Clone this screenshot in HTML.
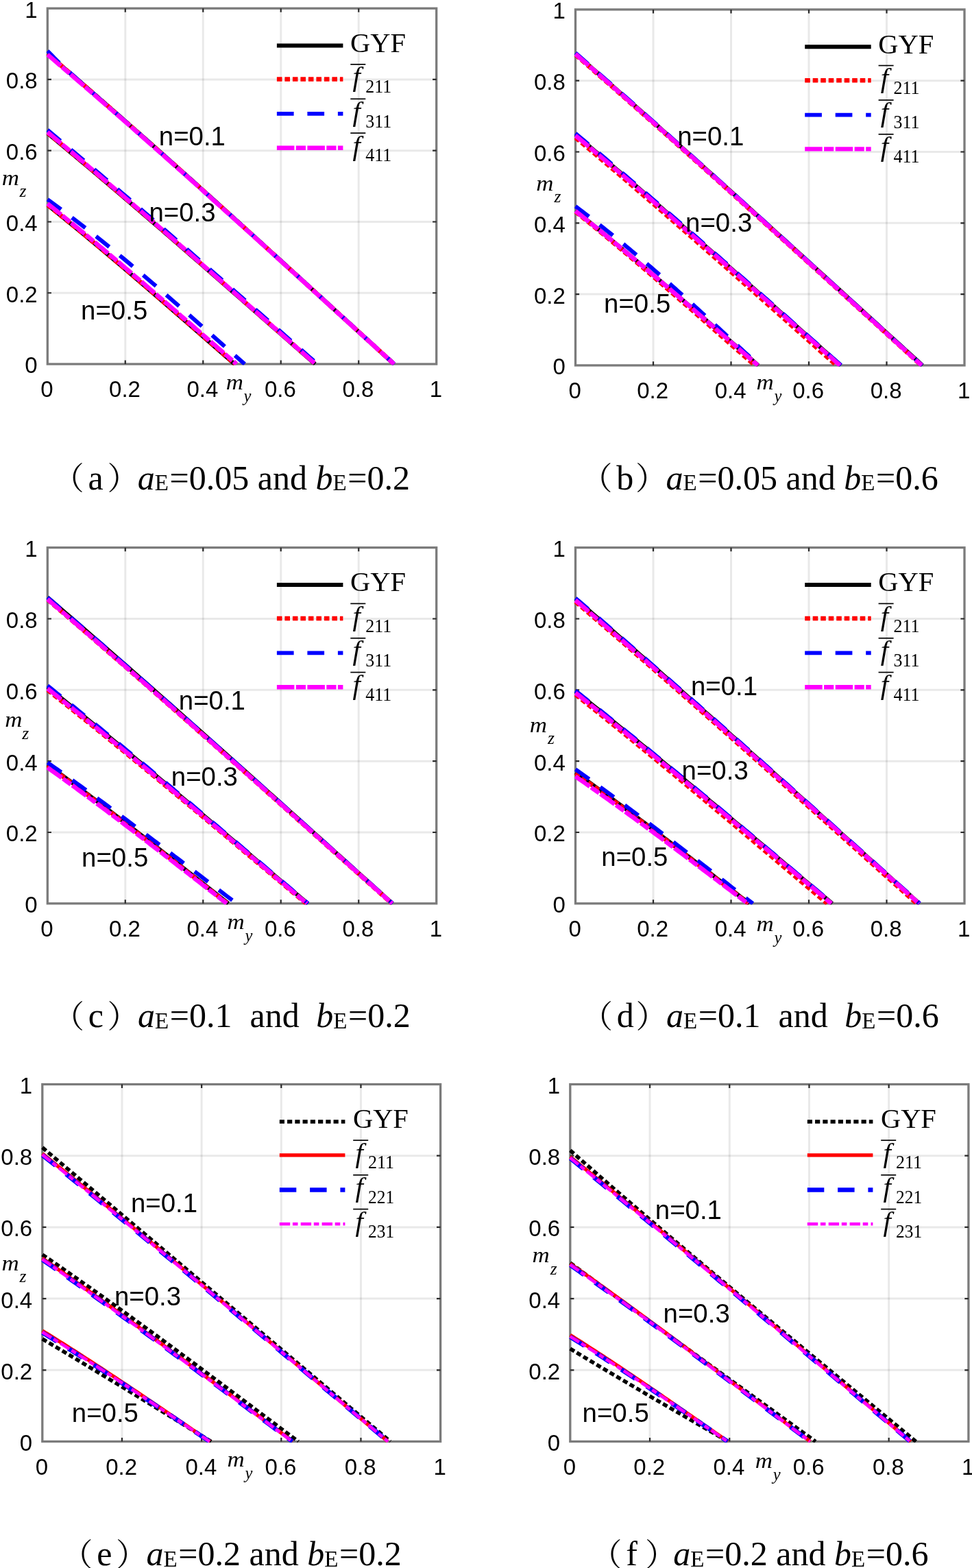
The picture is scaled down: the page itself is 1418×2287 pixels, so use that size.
<!DOCTYPE html>
<html lang="en"><head><meta charset="utf-8"><title>Yield surfaces</title>
<style>html,body{margin:0;padding:0;background:#fff}body{width:1418px;height:2287px;overflow:hidden}svg{display:block}</style>
</head><body>
<svg width="1418" height="2287" viewBox="0 0 1418 2287">
<rect width="1418" height="2287" fill="#fff"/>
<g id="plot-a">
<path d="M182.78 12.2 V531 M296.26 12.2 V531 M409.74 12.2 V531 M523.22 12.2 V531" stroke="#000" stroke-opacity="0.088" stroke-width="3.0" fill="none"/>
<path d="M69.3 427.24 H636.7 M69.3 323.48 H636.7 M69.3 219.72 H636.7 M69.3 115.96 H636.7" stroke="#000" stroke-opacity="0.088" stroke-width="3.0" fill="none"/>
<rect x="69.3" y="12.2" width="567.4" height="518.8" fill="none" stroke="#7b7b7b" stroke-width="3.3"/>
<path d="M182.78 531 v-5.6 M182.78 12.2 v5.6 M69.3 427.24 h5.6 M636.7 427.24 h-5.6 M296.26 531 v-5.6 M296.26 12.2 v5.6 M69.3 323.48 h5.6 M636.7 323.48 h-5.6 M409.74 531 v-5.6 M409.74 12.2 v5.6 M69.3 219.72 h5.6 M636.7 219.72 h-5.6 M523.22 531 v-5.6 M523.22 12.2 v5.6 M69.3 115.96 h5.6 M636.7 115.96 h-5.6" stroke="#2a2a2a" stroke-width="2.2" fill="none"/>
<clipPath id="clip-a"><rect x="67.8" y="12.2" width="570.4" height="520.4"/></clipPath>
<g clip-path="url(#clip-a)" fill="none">
<path d="M69.3 78.61 L78.14 86.15 L86.96 93.69 L95.75 101.23 L104.52 108.77 L113.27 116.31 L122 123.85 L130.71 131.39 L139.4 138.93 L148.06 146.47 L156.71 154.01 L165.34 161.55 L173.95 169.09 L182.54 176.63 L191.12 184.16 L199.68 191.7 L208.22 199.24 L216.75 206.78 L225.26 214.32 L233.75 221.86 L242.23 229.4 L250.7 236.94 L259.15 244.48 L267.59 252.02 L276.02 259.56 L284.43 267.1 L292.83 274.64 L301.22 282.18 L309.6 289.72 L317.97 297.26 L326.33 304.8 L334.68 312.34 L343.02 319.88 L351.36 327.42 L359.68 334.96 L368 342.5 L376.31 350.04 L384.61 357.58 L392.91 365.12 L401.2 372.66 L409.49 380.2 L417.77 387.74 L426.05 395.28 L434.32 402.82 L442.59 410.36 L450.86 417.9 L459.12 425.44 L467.39 432.98 L475.65 440.52 L483.91 448.06 L492.17 455.6 L500.43 463.14 L508.69 470.68 L516.95 478.22 L525.22 485.76 L533.48 493.3 L541.75 500.84 L550.02 508.38 L558.29 515.92 L566.57 523.46 L574.85 531" stroke="#000000" stroke-width="6.0"/>
<path d="M69.3 78.61 L78.14 86.15 L86.96 93.69 L95.75 101.23 L104.52 108.77 L113.27 116.31 L122 123.85 L130.71 131.39 L139.4 138.93 L148.06 146.47 L156.71 154.01 L165.34 161.55 L173.95 169.09 L182.54 176.63 L191.12 184.16 L199.68 191.7 L208.22 199.24 L216.75 206.78 L225.26 214.32 L233.75 221.86 L242.23 229.4 L250.7 236.94 L259.15 244.48 L267.59 252.02 L276.02 259.56 L284.43 267.1 L292.83 274.64 L301.22 282.18 L309.6 289.72 L317.97 297.26 L326.33 304.8 L334.68 312.34 L343.02 319.88 L351.36 327.42 L359.68 334.96 L368 342.5 L376.31 350.04 L384.61 357.58 L392.91 365.12 L401.2 372.66 L409.49 380.2 L417.77 387.74 L426.05 395.28 L434.32 402.82 L442.59 410.36 L450.86 417.9 L459.12 425.44 L467.39 432.98 L475.65 440.52 L483.91 448.06 L492.17 455.6 L500.43 463.14 L508.69 470.68 L516.95 478.22 L525.22 485.76 L533.48 493.3 L541.75 500.84 L550.02 508.38 L558.29 515.92 L566.57 523.46 L574.85 531" stroke="#ff0000" stroke-width="6.4" stroke-dasharray="7.6 3.9"/>
<path d="M69.3 74.2 L78.14 83.41 L86.97 92.02 L95.76 100.24 L104.54 108.22 L113.3 116.03 L122.03 123.75 L130.74 131.4 L139.43 139.01 L148.11 146.6 L156.76 154.16 L165.39 161.72 L174.01 169.27 L182.61 176.81 L191.19 184.35 L199.75 191.89 L208.3 199.43 L216.83 206.97 L225.34 214.5 L233.84 222.04 L242.33 229.58 L250.8 237.11 L259.25 244.65 L267.7 252.18 L276.13 259.72 L284.55 267.25 L292.95 274.79 L301.35 282.33 L309.74 289.86 L318.11 297.4 L326.47 304.93 L334.83 312.47 L343.18 320 L351.51 327.54 L359.84 335.08 L368.16 342.61 L376.48 350.15 L384.79 357.68 L393.09 365.22 L401.39 372.75 L409.68 380.29 L417.96 387.82 L426.25 395.36 L434.52 402.9 L442.8 410.43 L451.07 417.97 L459.34 425.5 L467.61 433.04 L475.88 440.57 L484.14 448.11 L492.41 455.64 L500.67 463.18 L508.94 470.72 L517.2 478.25 L525.47 485.79 L533.74 493.32 L542.01 500.86 L550.29 508.39 L558.57 515.93 L566.85 523.46 L575.14 531" stroke="#0000ff" stroke-width="5.9" stroke-dasharray="24.7 19.8"/>
<path d="M69.3 79.64 L78.14 87.17 L86.96 94.69 L95.75 102.21 L104.52 109.73 L113.27 117.26 L122 124.78 L130.71 132.3 L139.4 139.82 L148.06 147.35 L156.71 154.87 L165.34 162.39 L173.95 169.92 L182.54 177.44 L191.12 184.96 L199.68 192.48 L208.22 200.01 L216.75 207.53 L225.26 215.05 L233.75 222.57 L242.23 230.1 L250.7 237.62 L259.15 245.14 L267.59 252.66 L276.02 260.19 L284.43 267.71 L292.83 275.23 L301.22 282.75 L309.6 290.28 L317.97 297.8 L326.33 305.32 L334.68 312.84 L343.02 320.37 L351.36 327.89 L359.68 335.41 L368 342.94 L376.31 350.46 L384.61 357.98 L392.91 365.5 L401.2 373.03 L409.49 380.55 L417.77 388.07 L426.05 395.59 L434.32 403.12 L442.59 410.64 L450.86 418.16 L459.12 425.68 L467.39 433.21 L475.65 440.73 L483.91 448.25 L492.17 455.77 L500.43 463.3 L508.69 470.82 L516.95 478.34 L525.22 485.86 L533.48 493.39 L541.75 500.91 L550.02 508.43 L558.29 515.95 L566.57 523.48 L574.85 531" stroke="#ff00ff" stroke-width="6.4" stroke-dasharray="25.5 2.4 14.2 2.4"/>
<path d="M69.3 194.3 L76.08 199.91 L82.85 205.52 L89.6 211.13 L96.34 216.75 L103.06 222.36 L109.77 227.97 L116.46 233.58 L123.14 239.19 L129.81 244.8 L136.46 250.42 L143.11 256.03 L149.73 261.64 L156.35 267.25 L162.96 272.86 L169.55 278.47 L176.14 284.09 L182.71 289.7 L189.27 295.31 L195.82 300.92 L202.37 306.53 L208.9 312.14 L215.42 317.76 L221.94 323.37 L228.44 328.98 L234.94 334.59 L241.43 340.2 L247.92 345.81 L254.39 351.43 L260.86 357.04 L267.32 362.65 L273.78 368.26 L280.23 373.87 L286.67 379.48 L293.11 385.1 L299.54 390.71 L305.97 396.32 L312.4 401.93 L318.82 407.54 L325.24 413.15 L331.65 418.77 L338.06 424.38 L344.47 429.99 L350.87 435.6 L357.27 441.21 L363.67 446.82 L370.07 452.44 L376.47 458.05 L382.87 463.66 L389.26 469.27 L395.66 474.88 L402.06 480.49 L408.45 486.11 L414.85 491.72 L421.25 497.33 L427.65 502.94 L434.05 508.55 L440.45 514.16 L446.85 519.78 L453.26 525.39 L459.67 531" stroke="#000000" stroke-width="6.0"/>
<path d="M69.3 193.78 L76.09 199.4 L82.87 205.02 L89.63 210.64 L96.37 216.26 L103.11 221.88 L109.82 227.5 L116.53 233.12 L123.22 238.74 L129.89 244.36 L136.56 249.98 L143.21 255.6 L149.85 261.22 L156.48 266.84 L163.09 272.46 L169.69 278.09 L176.29 283.71 L182.87 289.33 L189.44 294.95 L196 300.57 L202.55 306.19 L209.1 311.81 L215.63 317.43 L222.16 323.05 L228.67 328.67 L235.18 334.29 L241.68 339.91 L248.17 345.53 L254.66 351.15 L261.13 356.77 L267.61 362.39 L274.07 368.01 L280.53 373.63 L286.98 379.25 L293.43 384.87 L299.88 390.49 L306.31 396.11 L312.75 401.73 L319.18 407.35 L325.6 412.97 L332.03 418.59 L338.45 424.21 L344.86 429.83 L351.28 435.45 L357.69 441.07 L364.1 446.69 L370.51 452.32 L376.92 457.94 L383.32 463.56 L389.73 469.18 L396.13 474.8 L402.54 480.42 L408.94 486.04 L415.35 491.66 L421.76 497.28 L428.17 502.9 L434.58 508.52 L440.99 514.14 L447.4 519.76 L453.82 525.38 L460.24 531" stroke="#ff0000" stroke-width="6.4" stroke-dasharray="7.6 3.9"/>
<path d="M69.3 189.63 L76.14 195.32 L82.96 201.01 L89.77 206.7 L96.56 212.39 L103.34 218.08 L110.11 223.77 L116.86 229.46 L123.6 235.15 L130.32 240.84 L137.03 246.52 L143.73 252.21 L150.42 257.9 L157.09 263.59 L163.75 269.28 L170.4 274.97 L177.04 280.66 L183.67 286.35 L190.29 292.04 L196.9 297.73 L203.5 303.42 L210.09 309.11 L216.67 314.8 L223.24 320.49 L229.81 326.18 L236.36 331.87 L242.91 337.56 L249.45 343.25 L255.98 348.94 L262.51 354.63 L269.02 360.31 L275.54 366 L282.04 371.69 L288.54 377.38 L295.04 383.07 L301.53 388.76 L308.02 394.45 L314.5 400.14 L320.98 405.83 L327.45 411.52 L333.92 417.21 L340.39 422.9 L346.85 428.59 L353.31 434.28 L359.77 439.97 L366.23 445.66 L372.68 451.35 L379.14 457.04 L385.59 462.73 L392.04 468.42 L398.5 474.1 L404.95 479.79 L411.4 485.48 L417.86 491.17 L424.31 496.86 L430.77 502.55 L437.22 508.24 L443.68 513.93 L450.14 519.62 L456.61 525.31 L463.08 531" stroke="#0000ff" stroke-width="5.9" stroke-dasharray="24.7 19.8"/>
<path d="M69.3 192.74 L76.09 198.38 L82.87 204.02 L89.63 209.66 L96.37 215.29 L103.11 220.93 L109.82 226.57 L116.53 232.21 L123.22 237.84 L129.89 243.48 L136.56 249.12 L143.21 254.76 L149.85 260.39 L156.48 266.03 L163.09 271.67 L169.69 277.31 L176.29 282.94 L182.87 288.58 L189.44 294.22 L196 299.86 L202.55 305.49 L209.1 311.13 L215.63 316.77 L222.16 322.41 L228.67 328.05 L235.18 333.68 L241.68 339.32 L248.17 344.96 L254.66 350.6 L261.13 356.23 L267.61 361.87 L274.07 367.51 L280.53 373.15 L286.98 378.78 L293.43 384.42 L299.88 390.06 L306.31 395.7 L312.75 401.33 L319.18 406.97 L325.6 412.61 L332.03 418.25 L338.45 423.89 L344.86 429.52 L351.28 435.16 L357.69 440.8 L364.1 446.44 L370.51 452.07 L376.92 457.71 L383.32 463.35 L389.73 468.99 L396.13 474.62 L402.54 480.26 L408.94 485.9 L415.35 491.54 L421.76 497.17 L428.17 502.81 L434.58 508.45 L440.99 514.09 L447.4 519.72 L453.82 525.36 L460.24 531" stroke="#ff00ff" stroke-width="6.4" stroke-dasharray="25.5 2.4 14.2 2.4"/>
<path d="M69.3 298.84 L74.12 302.71 L78.93 306.58 L83.73 310.45 L88.51 314.31 L93.27 318.18 L98.02 322.05 L102.76 325.92 L107.48 329.79 L112.19 333.66 L116.89 337.53 L121.57 341.4 L126.24 345.27 L130.9 349.14 L135.55 353.01 L140.19 356.88 L144.82 360.75 L149.43 364.62 L154.04 368.49 L158.63 372.36 L163.22 376.22 L167.79 380.09 L172.36 383.96 L176.91 387.83 L181.46 391.7 L186 395.57 L190.54 399.44 L195.06 403.31 L199.58 407.18 L204.09 411.05 L208.6 414.92 L213.09 418.79 L217.59 422.66 L222.07 426.53 L226.56 430.4 L231.03 434.27 L235.5 438.13 L239.97 442 L244.43 445.87 L248.89 449.74 L253.35 453.61 L257.8 457.48 L262.25 461.35 L266.7 465.22 L271.14 469.09 L275.59 472.96 L280.03 476.83 L284.47 480.7 L288.91 484.57 L293.35 488.44 L297.78 492.31 L302.22 496.18 L306.66 500.04 L311.1 503.91 L315.54 507.78 L319.98 511.65 L324.42 515.52 L328.87 519.39 L333.32 523.26 L337.77 527.13 L342.22 531" stroke="#000000" stroke-width="6.0"/>
<path d="M69.3 298.84 L74.13 302.71 L78.95 306.58 L83.76 310.45 L88.54 314.31 L93.32 318.18 L98.08 322.05 L102.82 325.92 L107.56 329.79 L112.28 333.66 L116.98 337.53 L121.68 341.4 L126.36 345.27 L131.03 349.14 L135.68 353.01 L140.33 356.88 L144.97 360.75 L149.59 364.62 L154.21 368.49 L158.81 372.36 L163.4 376.22 L167.99 380.09 L172.57 383.96 L177.13 387.83 L181.69 391.7 L186.24 395.57 L190.78 399.44 L195.32 403.31 L199.85 407.18 L204.37 411.05 L208.88 414.92 L213.39 418.79 L217.89 422.66 L222.39 426.53 L226.88 430.4 L231.36 434.27 L235.84 438.13 L240.32 442 L244.79 445.87 L249.26 449.74 L253.73 453.61 L258.19 457.48 L262.65 461.35 L267.1 465.22 L271.56 469.09 L276.01 472.96 L280.46 476.83 L284.91 480.7 L289.36 484.57 L293.81 488.44 L298.26 492.31 L302.7 496.18 L307.15 500.04 L311.6 503.91 L316.05 507.78 L320.5 511.65 L324.95 515.52 L329.41 519.39 L333.87 523.26 L338.32 527.13 L342.79 531" stroke="#ff0000" stroke-width="6.4" stroke-dasharray="7.6 3.9"/>
<path d="M69.3 290.8 L74.78 294.8 L80.23 298.8 L85.64 302.81 L91.01 306.81 L96.34 310.81 L101.64 314.82 L106.91 318.82 L112.14 322.82 L117.33 326.83 L122.5 330.83 L127.63 334.83 L132.74 338.84 L137.81 342.84 L142.85 346.84 L147.87 350.85 L152.85 354.85 L157.82 358.85 L162.75 362.86 L167.66 366.86 L172.55 370.86 L177.41 374.87 L182.25 378.87 L187.06 382.87 L191.86 386.88 L196.63 390.88 L201.39 394.88 L206.12 398.89 L210.84 402.89 L215.54 406.89 L220.23 410.9 L224.9 414.9 L229.55 418.9 L234.19 422.91 L238.82 426.91 L243.43 430.91 L248.03 434.92 L252.62 438.92 L257.2 442.93 L261.77 446.93 L266.33 450.93 L270.89 454.94 L275.44 458.94 L279.98 462.94 L284.51 466.95 L289.04 470.95 L293.57 474.95 L298.09 478.96 L302.61 482.96 L307.13 486.96 L311.65 490.97 L316.17 494.97 L320.69 498.97 L325.21 502.98 L329.74 506.98 L334.26 510.98 L338.79 514.99 L343.33 518.99 L347.87 522.99 L352.42 527 L356.97 531" stroke="#0000ff" stroke-width="5.9" stroke-dasharray="24.7 19.8"/>
<path d="M69.3 297.02 L74.17 300.92 L79.03 304.82 L83.87 308.72 L88.7 312.62 L93.51 316.52 L98.31 320.42 L103.09 324.32 L107.86 328.22 L112.62 332.12 L117.36 336.02 L122.09 339.92 L126.81 343.82 L131.52 347.72 L136.21 351.62 L140.9 355.52 L145.57 359.42 L150.23 363.32 L154.89 367.21 L159.53 371.11 L164.16 375.01 L168.78 378.91 L173.4 382.81 L178 386.71 L182.6 390.61 L187.19 394.51 L191.77 398.41 L196.34 402.31 L200.9 406.21 L205.46 410.11 L210.02 414.01 L214.56 417.91 L219.1 421.81 L223.63 425.71 L228.16 429.61 L232.69 433.51 L237.21 437.41 L241.72 441.31 L246.23 445.21 L250.74 449.11 L255.24 453.01 L259.74 456.91 L264.24 460.81 L268.73 464.71 L273.22 468.61 L277.71 472.51 L282.2 476.4 L286.69 480.3 L291.18 484.2 L295.66 488.1 L300.15 492 L304.63 495.9 L309.12 499.8 L313.61 503.7 L318.09 507.6 L322.58 511.5 L327.07 515.4 L331.57 519.3 L336.06 523.2 L340.56 527.1 L345.06 531" stroke="#ff00ff" stroke-width="6.4" stroke-dasharray="25.5 2.4 14.2 2.4"/>
</g>
<g font-family='"Liberation Sans", Arial, sans-serif' font-size="33" fill="#000">
<text x="68.5" y="579.4" text-anchor="middle">0</text>
<text x="181.98" y="579.4" text-anchor="middle">0.2</text>
<text x="295.46" y="579.4" text-anchor="middle">0.4</text>
<text x="408.94" y="579.4" text-anchor="middle">0.6</text>
<text x="522.42" y="579.4" text-anchor="middle">0.8</text>
<text x="635.9" y="579.4" text-anchor="middle">1</text>
<text x="54.7" y="544.4" text-anchor="end">0</text>
<text x="54.7" y="440.64" text-anchor="end">0.2</text>
<text x="54.7" y="336.88" text-anchor="end">0.4</text>
<text x="54.7" y="233.12" text-anchor="end">0.6</text>
<text x="54.7" y="129.36" text-anchor="end">0.8</text>
<text x="54.7" y="25.6" text-anchor="end">1</text>
</g>
<g font-family='"Liberation Sans", Arial, sans-serif' font-size="38.4" fill="#000">
<text x="231.8" y="211.5">n=0.1</text>
<text x="217.4" y="323.2">n=0.3</text>
<text x="118.1" y="465.9">n=0.5</text>
</g>
<g font-family='"Liberation Serif", "Times New Roman", serif' font-style="italic" fill="#000">
<text x="2.65" y="270" font-size="31" textLength="25.2" lengthAdjust="spacingAndGlyphs">m</text>
<text x="28.5" y="287.2" font-size="25.5">z</text>
<text x="329.7" y="567.9" font-size="31" textLength="25.2" lengthAdjust="spacingAndGlyphs">m</text>
<text x="355.6" y="585.9" font-size="24.5">y</text>
</g>
<path d="M403.9 66.6 H500.4" stroke="#000000" stroke-width="6.0" fill="none"/>
<path d="M403.9 115.5 H500.4" stroke="#ff0000" stroke-width="6.4" fill="none" stroke-dasharray="7.6 3.9"/>
<path d="M403.9 165.9 H500.4" stroke="#0000ff" stroke-width="5.9" fill="none" stroke-dasharray="24.7 19.8"/>
<path d="M403.9 215.7 H500.4" stroke="#ff00ff" stroke-width="6.4" fill="none" stroke-dasharray="25.5 2.4 14.2 2.4"/>
<g font-family='"Liberation Serif", "Times New Roman", serif' fill="#000">
<text x="511" y="75.8" font-size="41" textLength="81" lengthAdjust="spacingAndGlyphs">GYF</text>
<text x="514.5" y="125.3" font-size="41" font-style="italic">f</text>
<path d="M511.3 93.9 h22" stroke="#000" stroke-width="1.7"/>
<text x="533.2" y="135.1" font-size="26.5" textLength="38" lengthAdjust="spacingAndGlyphs">211</text>
<text x="514.5" y="175.7" font-size="41" font-style="italic">f</text>
<path d="M511.3 144.3 h22" stroke="#000" stroke-width="1.7"/>
<text x="533.2" y="185.5" font-size="26.5" textLength="38" lengthAdjust="spacingAndGlyphs">311</text>
<text x="514.5" y="225.5" font-size="41" font-style="italic">f</text>
<path d="M511.3 194.1 h22" stroke="#000" stroke-width="1.7"/>
<text x="533.2" y="235.3" font-size="26.5" textLength="38" lengthAdjust="spacingAndGlyphs">411</text>
</g>
<g font-family='"Liberation Serif", "Noto Serif CJK SC", serif' font-size="50" fill="#000">
<text x="76.8" y="713.3" font-size="46">（</text>
<text x="128.6" y="713.6">a</text>
<text x="156.4" y="713.3" font-size="46">）</text>
<text x="200.8" y="713.6" xml:space="preserve"><tspan font-style="italic">a</tspan><tspan font-size="33" dy="1.6">E</tspan><tspan dy="-1.6" dx="1.6">=</tspan><tspan>0.05 and </tspan><tspan font-style="italic">b</tspan><tspan font-size="33" dy="1.6">E</tspan><tspan dy="-1.6" dx="1.6">=</tspan><tspan>0.2</tspan></text>
</g>
</g>
<g id="plot-b">
<path d="M953 13.9 V532.9 M1066.5 13.9 V532.9 M1180 13.9 V532.9 M1293.5 13.9 V532.9" stroke="#000" stroke-opacity="0.088" stroke-width="3.0" fill="none"/>
<path d="M839.5 429.1 H1407 M839.5 325.3 H1407 M839.5 221.5 H1407 M839.5 117.7 H1407" stroke="#000" stroke-opacity="0.088" stroke-width="3.0" fill="none"/>
<rect x="839.5" y="13.9" width="567.5" height="519" fill="none" stroke="#7b7b7b" stroke-width="3.3"/>
<path d="M953 532.9 v-5.6 M953 13.9 v5.6 M839.5 429.1 h5.6 M1407 429.1 h-5.6 M1066.5 532.9 v-5.6 M1066.5 13.9 v5.6 M839.5 325.3 h5.6 M1407 325.3 h-5.6 M1180 532.9 v-5.6 M1180 13.9 v5.6 M839.5 221.5 h5.6 M1407 221.5 h-5.6 M1293.5 532.9 v-5.6 M1293.5 13.9 v5.6 M839.5 117.7 h5.6 M1407 117.7 h-5.6" stroke="#2a2a2a" stroke-width="2.2" fill="none"/>
<clipPath id="clip-b"><rect x="838" y="13.9" width="570.5" height="520.6"/></clipPath>
<g clip-path="url(#clip-b)" fill="none">
<path d="M839.5 78.26 L848.21 85.83 L856.91 93.41 L865.59 100.99 L874.26 108.57 L882.91 116.14 L891.55 123.72 L900.18 131.3 L908.79 138.88 L917.39 146.45 L925.97 154.03 L934.54 161.61 L943.1 169.18 L951.65 176.76 L960.19 184.34 L968.71 191.92 L977.23 199.49 L985.73 207.07 L994.22 214.65 L1002.71 222.23 L1011.18 229.8 L1019.64 237.38 L1028.1 244.96 L1036.54 252.54 L1044.98 260.11 L1053.41 267.69 L1061.83 275.27 L1070.24 282.85 L1078.65 290.42 L1087.05 298 L1095.44 305.58 L1103.83 313.16 L1112.21 320.73 L1120.58 328.31 L1128.95 335.89 L1137.32 343.46 L1145.68 351.04 L1154.03 358.62 L1162.38 366.2 L1170.73 373.77 L1179.08 381.35 L1187.42 388.93 L1195.75 396.51 L1204.09 404.08 L1212.42 411.66 L1220.75 419.24 L1229.08 426.82 L1237.41 434.39 L1245.74 441.97 L1254.07 449.55 L1262.39 457.13 L1270.72 464.7 L1279.05 472.28 L1287.37 479.86 L1295.7 487.44 L1304.03 495.01 L1312.36 502.59 L1320.7 510.17 L1329.03 517.75 L1337.37 525.32 L1345.71 532.9" stroke="#000000" stroke-width="6.0"/>
<path d="M839.5 79.81 L848.18 87.36 L856.85 94.92 L865.51 102.47 L874.15 110.02 L882.77 117.57 L891.38 125.12 L899.98 132.67 L908.56 140.22 L917.13 147.78 L925.69 155.33 L934.23 162.88 L942.76 170.43 L951.28 177.98 L959.79 185.53 L968.29 193.08 L976.77 200.64 L985.25 208.19 L993.71 215.74 L1002.17 223.29 L1010.61 230.84 L1019.05 238.39 L1027.47 245.94 L1035.89 253.5 L1044.3 261.05 L1052.7 268.6 L1061.09 276.15 L1069.48 283.7 L1077.86 291.25 L1086.23 298.81 L1094.59 306.36 L1102.95 313.91 L1111.3 321.46 L1119.65 329.01 L1127.99 336.56 L1136.32 344.11 L1144.66 351.67 L1152.98 359.22 L1161.31 366.77 L1169.62 374.32 L1177.94 381.87 L1186.25 389.42 L1194.56 396.97 L1202.87 404.53 L1211.17 412.08 L1219.48 419.63 L1227.78 427.18 L1236.08 434.73 L1244.38 442.28 L1252.68 449.83 L1260.97 457.39 L1269.27 464.94 L1277.57 472.49 L1285.87 480.04 L1294.17 487.59 L1302.47 495.14 L1310.77 502.69 L1319.08 510.25 L1327.39 517.8 L1335.7 525.35 L1344.01 532.9" stroke="#ff0000" stroke-width="6.4" stroke-dasharray="7.6 3.9"/>
<path d="M839.5 77.22 L848.2 84.81 L856.89 92.41 L865.56 100 L874.22 107.6 L882.87 115.19 L891.49 122.79 L900.11 130.38 L908.71 137.98 L917.3 145.57 L925.88 153.16 L934.44 160.76 L942.99 168.35 L951.53 175.95 L960.06 183.54 L968.57 191.14 L977.08 198.73 L985.57 206.33 L994.05 213.92 L1002.53 221.52 L1010.99 229.11 L1019.44 236.71 L1027.89 244.3 L1036.33 251.9 L1044.75 259.49 L1053.17 267.09 L1061.58 274.68 L1069.99 282.27 L1078.39 289.87 L1086.78 297.46 L1095.16 305.06 L1103.54 312.65 L1111.91 320.25 L1120.27 327.84 L1128.63 335.44 L1136.99 343.03 L1145.34 350.63 L1153.68 358.22 L1162.02 365.82 L1170.36 373.41 L1178.7 381.01 L1187.03 388.6 L1195.36 396.2 L1203.68 403.79 L1212.01 411.38 L1220.33 418.98 L1228.65 426.57 L1236.97 434.17 L1245.29 441.76 L1253.6 449.36 L1261.92 456.95 L1270.24 464.55 L1278.55 472.14 L1286.87 479.74 L1295.19 487.33 L1303.51 494.93 L1311.83 502.52 L1320.16 510.12 L1328.48 517.71 L1336.81 525.31 L1345.14 532.9" stroke="#0000ff" stroke-width="5.9" stroke-dasharray="24.7 19.8"/>
<path d="M839.5 78.77 L848.19 86.34 L856.87 93.91 L865.54 101.48 L874.18 109.05 L882.82 116.62 L891.44 124.19 L900.04 131.76 L908.64 139.32 L917.21 146.89 L925.78 154.46 L934.33 162.03 L942.88 169.6 L951.41 177.17 L959.92 184.74 L968.43 192.31 L976.92 199.87 L985.41 207.44 L993.88 215.01 L1002.35 222.58 L1010.8 230.15 L1019.25 237.72 L1027.68 245.29 L1036.11 252.86 L1044.53 260.42 L1052.94 267.99 L1061.34 275.56 L1069.73 283.13 L1078.12 290.7 L1086.5 298.27 L1094.88 305.84 L1103.24 313.41 L1111.6 320.98 L1119.96 328.54 L1128.31 336.11 L1136.66 343.68 L1145 351.25 L1153.33 358.82 L1161.67 366.39 L1169.99 373.96 L1178.32 381.52 L1186.64 389.09 L1194.96 396.66 L1203.28 404.23 L1211.59 411.8 L1219.9 419.37 L1228.21 426.94 L1236.52 434.51 L1244.83 442.07 L1253.14 449.64 L1261.45 457.21 L1269.75 464.78 L1278.06 472.35 L1286.37 479.92 L1294.68 487.49 L1302.99 495.06 L1311.3 502.62 L1319.62 510.19 L1327.93 517.76 L1336.25 525.33 L1344.58 532.9" stroke="#ff00ff" stroke-width="6.4" stroke-dasharray="25.5 2.4 14.2 2.4"/>
<path d="M839.5 196.59 L846.23 202.19 L852.94 207.8 L859.63 213.4 L866.31 219.01 L872.98 224.61 L879.63 230.22 L886.27 235.82 L892.9 241.43 L899.51 247.03 L906.11 252.64 L912.69 258.25 L919.27 263.85 L925.83 269.46 L932.38 275.06 L938.92 280.67 L945.45 286.27 L951.96 291.88 L958.47 297.48 L964.97 303.09 L971.45 308.69 L977.93 314.3 L984.4 319.9 L990.86 325.51 L997.31 331.11 L1003.75 336.72 L1010.19 342.32 L1016.62 347.93 L1023.04 353.53 L1029.45 359.14 L1035.86 364.74 L1042.26 370.35 L1048.65 375.95 L1055.04 381.56 L1061.42 387.16 L1067.8 392.77 L1074.17 398.38 L1080.54 403.98 L1086.91 409.59 L1093.27 415.19 L1099.63 420.8 L1105.98 426.4 L1112.33 432.01 L1118.68 437.61 L1125.03 443.22 L1131.37 448.82 L1137.72 454.43 L1144.06 460.03 L1150.4 465.64 L1156.74 471.24 L1163.08 476.85 L1169.42 482.45 L1175.76 488.06 L1182.1 493.66 L1188.44 499.27 L1194.79 504.87 L1201.13 510.48 L1207.48 516.08 L1213.83 521.69 L1220.18 527.29 L1226.54 532.9" stroke="#000000" stroke-width="6.0"/>
<path d="M839.5 200.74 L846.12 206.28 L852.73 211.81 L859.32 217.35 L865.9 222.88 L872.46 228.42 L879.01 233.96 L885.54 239.49 L892.06 245.03 L898.57 250.56 L905.07 256.1 L911.55 261.64 L918.02 267.17 L924.48 272.71 L930.92 278.24 L937.36 283.78 L943.78 289.32 L950.2 294.85 L956.6 300.39 L962.99 305.92 L969.37 311.46 L975.75 317 L982.11 322.53 L988.47 328.07 L994.81 333.6 L1001.15 339.14 L1007.48 344.68 L1013.81 350.21 L1020.12 355.75 L1026.43 361.28 L1032.73 366.82 L1039.03 372.36 L1045.32 377.89 L1051.6 383.43 L1057.88 388.96 L1064.16 394.5 L1070.43 400.04 L1076.69 405.57 L1082.95 411.11 L1089.21 416.64 L1095.46 422.18 L1101.71 427.72 L1107.96 433.25 L1114.21 438.79 L1120.45 444.32 L1126.69 449.86 L1132.93 455.4 L1139.17 460.93 L1145.41 466.47 L1151.64 472 L1157.88 477.54 L1164.11 483.08 L1170.35 488.61 L1176.59 494.15 L1182.83 499.68 L1189.07 505.22 L1195.31 510.76 L1201.55 516.29 L1207.79 521.83 L1214.04 527.36 L1220.29 532.9" stroke="#ff0000" stroke-width="6.4" stroke-dasharray="7.6 3.9"/>
<path d="M839.5 194.51 L846.24 200.15 L852.96 205.79 L859.66 211.43 L866.35 217.07 L873.03 222.71 L879.69 228.35 L886.34 233.99 L892.97 239.63 L899.59 245.27 L906.2 250.91 L912.8 256.55 L919.38 262.19 L925.95 267.83 L932.51 273.47 L939.06 279.11 L945.6 284.75 L952.12 290.39 L958.64 296.03 L965.15 301.67 L971.64 307.31 L978.13 312.95 L984.61 318.59 L991.08 324.23 L997.54 329.87 L1003.99 335.51 L1010.43 341.15 L1016.87 346.79 L1023.3 352.43 L1029.72 358.07 L1036.14 363.71 L1042.55 369.35 L1048.95 374.99 L1055.35 380.63 L1061.74 386.27 L1068.13 391.9 L1074.51 397.54 L1080.89 403.18 L1087.27 408.82 L1093.64 414.46 L1100 420.1 L1106.37 425.74 L1112.73 431.38 L1119.09 437.02 L1125.44 442.66 L1131.8 448.3 L1138.15 453.94 L1144.5 459.58 L1150.85 465.22 L1157.2 470.86 L1163.55 476.5 L1169.9 482.14 L1176.25 487.78 L1182.6 493.42 L1188.96 499.06 L1195.31 504.7 L1201.66 510.34 L1208.02 515.98 L1214.38 521.62 L1220.74 527.26 L1227.1 532.9" stroke="#0000ff" stroke-width="5.9" stroke-dasharray="24.7 19.8"/>
<path d="M839.5 197.63 L846.21 203.21 L852.9 208.8 L859.58 214.39 L866.24 219.98 L872.89 225.57 L879.52 231.15 L886.14 236.74 L892.75 242.33 L899.34 247.92 L905.92 253.5 L912.49 259.09 L919.04 264.68 L925.58 270.27 L932.12 275.86 L938.64 281.44 L945.14 287.03 L951.64 292.62 L958.13 298.21 L964.61 303.8 L971.08 309.38 L977.53 314.97 L983.98 320.56 L990.42 326.15 L996.86 331.74 L1003.28 337.32 L1009.7 342.91 L1016.1 348.5 L1022.51 354.09 L1028.9 359.68 L1035.29 365.26 L1041.67 370.85 L1048.04 376.44 L1054.41 382.03 L1060.78 387.61 L1067.14 393.2 L1073.49 398.79 L1079.84 404.38 L1086.19 409.97 L1092.53 415.55 L1098.87 421.14 L1105.2 426.73 L1111.54 432.32 L1117.87 437.91 L1124.19 443.49 L1130.52 449.08 L1136.85 454.67 L1143.17 460.26 L1149.49 465.85 L1155.81 471.43 L1162.13 477.02 L1168.46 482.61 L1174.78 488.2 L1181.1 493.78 L1187.42 499.37 L1193.75 504.96 L1200.07 510.55 L1206.4 516.14 L1212.73 521.72 L1219.06 527.31 L1225.4 532.9" stroke="#ff00ff" stroke-width="6.4" stroke-dasharray="25.5 2.4 14.2 2.4"/>
<path d="M839.5 307.65 L844.22 311.41 L848.93 315.16 L853.62 318.92 L858.29 322.67 L862.96 326.42 L867.6 330.18 L872.24 333.93 L876.86 337.69 L881.46 341.44 L886.06 345.19 L890.64 348.95 L895.21 352.7 L899.76 356.46 L904.31 360.21 L908.84 363.97 L913.36 367.72 L917.88 371.47 L922.38 375.23 L926.87 378.98 L931.35 382.74 L935.82 386.49 L940.29 390.24 L944.74 394 L949.19 397.75 L953.62 401.51 L958.05 405.26 L962.48 409.01 L966.89 412.77 L971.3 416.52 L975.7 420.28 L980.1 424.03 L984.48 427.79 L988.87 431.54 L993.25 435.29 L997.62 439.05 L1001.99 442.8 L1006.35 446.56 L1010.71 450.31 L1015.07 454.06 L1019.42 457.82 L1023.77 461.57 L1028.11 465.33 L1032.46 469.08 L1036.8 472.83 L1041.14 476.59 L1045.48 480.34 L1049.82 484.1 L1054.15 487.85 L1058.49 491.6 L1062.82 495.36 L1067.16 499.11 L1071.49 502.87 L1075.83 506.62 L1080.17 510.38 L1084.5 514.13 L1088.84 517.88 L1093.19 521.64 L1097.53 525.39 L1101.88 529.15 L1106.22 532.9" stroke="#000000" stroke-width="6.0"/>
<path d="M839.5 308.69 L844.14 312.43 L848.76 316.17 L853.36 319.9 L857.95 323.64 L862.53 327.38 L867.09 331.11 L871.64 334.85 L876.17 338.59 L880.7 342.32 L885.2 346.06 L889.7 349.8 L894.18 353.53 L898.66 357.27 L903.12 361.01 L907.56 364.74 L912 368.48 L916.43 372.22 L920.85 375.95 L925.25 379.69 L929.65 383.43 L934.04 387.16 L938.41 390.9 L942.78 394.64 L947.14 398.38 L951.5 402.11 L955.84 405.85 L960.18 409.59 L964.51 413.32 L968.83 417.06 L973.15 420.8 L977.46 424.53 L981.76 428.27 L986.06 432.01 L990.35 435.74 L994.64 439.48 L998.92 443.22 L1003.2 446.95 L1007.48 450.69 L1011.75 454.43 L1016.01 458.16 L1020.28 461.9 L1024.54 465.64 L1028.8 469.37 L1033.05 473.11 L1037.31 476.85 L1041.56 480.58 L1045.81 484.32 L1050.07 488.06 L1054.32 491.8 L1058.57 495.53 L1062.82 499.27 L1067.07 503.01 L1071.32 506.74 L1075.57 510.48 L1079.82 514.22 L1084.08 517.95 L1088.33 521.69 L1092.59 525.43 L1096.85 529.16 L1101.12 532.9" stroke="#ff0000" stroke-width="6.4" stroke-dasharray="7.6 3.9"/>
<path d="M839.5 300.91 L844.65 304.77 L849.77 308.64 L854.85 312.51 L859.89 316.37 L864.89 320.24 L869.86 324.11 L874.8 327.97 L879.7 331.84 L884.56 335.71 L889.4 339.57 L894.2 343.44 L898.97 347.31 L903.72 351.17 L908.43 355.04 L913.12 358.91 L917.77 362.77 L922.4 366.64 L927.01 370.5 L931.59 374.37 L936.14 378.24 L940.67 382.1 L945.18 385.97 L949.67 389.84 L954.13 393.7 L958.58 397.57 L963 401.44 L967.41 405.3 L971.8 409.17 L976.17 413.04 L980.52 416.9 L984.86 420.77 L989.19 424.64 L993.49 428.5 L997.79 432.37 L1002.07 436.24 L1006.35 440.1 L1010.61 443.97 L1014.86 447.84 L1019.1 451.7 L1023.33 455.57 L1027.55 459.44 L1031.77 463.3 L1035.98 467.17 L1040.18 471.04 L1044.39 474.9 L1048.58 478.77 L1052.78 482.63 L1056.97 486.5 L1061.16 490.37 L1065.34 494.23 L1069.53 498.1 L1073.72 501.97 L1077.91 505.83 L1082.11 509.7 L1086.3 513.57 L1090.5 517.43 L1094.71 521.3 L1098.92 525.17 L1103.14 529.03 L1107.36 532.9" stroke="#0000ff" stroke-width="5.9" stroke-dasharray="24.7 19.8"/>
<path d="M839.5 307.65 L844.21 311.41 L848.91 315.16 L853.59 318.92 L858.26 322.67 L862.91 326.42 L867.55 330.18 L872.17 333.93 L876.78 337.69 L881.38 341.44 L885.96 345.19 L890.53 348.95 L895.09 352.7 L899.64 356.46 L904.18 360.21 L908.7 363.97 L913.21 367.72 L917.72 371.47 L922.21 375.23 L926.69 378.98 L931.16 382.74 L935.62 386.49 L940.08 390.24 L944.52 394 L948.96 397.75 L953.39 401.51 L957.81 405.26 L962.22 409.01 L966.63 412.77 L971.02 416.52 L975.42 420.28 L979.8 424.03 L984.18 427.79 L988.56 431.54 L992.92 435.29 L997.29 439.05 L1001.65 442.8 L1006 446.56 L1010.35 450.31 L1014.7 454.06 L1019.04 457.82 L1023.38 461.57 L1027.72 465.33 L1032.05 469.08 L1036.38 472.83 L1040.71 476.59 L1045.04 480.34 L1049.37 484.1 L1053.7 487.85 L1058.02 491.6 L1062.35 495.36 L1066.67 499.11 L1071 502.87 L1075.33 506.62 L1079.65 510.38 L1083.98 514.13 L1088.31 517.88 L1092.65 521.64 L1096.98 525.39 L1101.32 529.15 L1105.66 532.9" stroke="#ff00ff" stroke-width="6.4" stroke-dasharray="25.5 2.4 14.2 2.4"/>
</g>
<g font-family='"Liberation Sans", Arial, sans-serif' font-size="33" fill="#000">
<text x="838.7" y="581.3" text-anchor="middle">0</text>
<text x="952.2" y="581.3" text-anchor="middle">0.2</text>
<text x="1065.7" y="581.3" text-anchor="middle">0.4</text>
<text x="1179.2" y="581.3" text-anchor="middle">0.6</text>
<text x="1292.7" y="581.3" text-anchor="middle">0.8</text>
<text x="1406.2" y="581.3" text-anchor="middle">1</text>
<text x="824.9" y="546.3" text-anchor="end">0</text>
<text x="824.9" y="442.5" text-anchor="end">0.2</text>
<text x="824.9" y="338.7" text-anchor="end">0.4</text>
<text x="824.9" y="234.9" text-anchor="end">0.6</text>
<text x="824.9" y="131.1" text-anchor="end">0.8</text>
<text x="824.9" y="27.3" text-anchor="end">1</text>
</g>
<g font-family='"Liberation Sans", Arial, sans-serif' font-size="38.4" fill="#000">
<text x="988.2" y="211.5">n=0.1</text>
<text x="1000.1" y="337.6">n=0.3</text>
<text x="881.1" y="456">n=0.5</text>
</g>
<g font-family='"Liberation Serif", "Times New Roman", serif' font-style="italic" fill="#000">
<text x="782.3" y="277.6" font-size="31" textLength="25.2" lengthAdjust="spacingAndGlyphs">m</text>
<text x="808.6" y="294.9" font-size="25.5">z</text>
<text x="1103.6" y="567.9" font-size="31" textLength="25.2" lengthAdjust="spacingAndGlyphs">m</text>
<text x="1129.5" y="585.9" font-size="24.5">y</text>
</g>
<path d="M1174.2 68.3 H1270.7" stroke="#000000" stroke-width="6.0" fill="none"/>
<path d="M1174.2 117.2 H1270.7" stroke="#ff0000" stroke-width="6.4" fill="none" stroke-dasharray="7.6 3.9"/>
<path d="M1174.2 167.6 H1270.7" stroke="#0000ff" stroke-width="5.9" fill="none" stroke-dasharray="24.7 19.8"/>
<path d="M1174.2 217.4 H1270.7" stroke="#ff00ff" stroke-width="6.4" fill="none" stroke-dasharray="25.5 2.4 14.2 2.4"/>
<g font-family='"Liberation Serif", "Times New Roman", serif' fill="#000">
<text x="1281.3" y="77.5" font-size="41" textLength="81" lengthAdjust="spacingAndGlyphs">GYF</text>
<text x="1284.8" y="127" font-size="41" font-style="italic">f</text>
<path d="M1281.6 95.6 h22" stroke="#000" stroke-width="1.7"/>
<text x="1303.5" y="136.8" font-size="26.5" textLength="38" lengthAdjust="spacingAndGlyphs">211</text>
<text x="1284.8" y="177.4" font-size="41" font-style="italic">f</text>
<path d="M1281.6 146 h22" stroke="#000" stroke-width="1.7"/>
<text x="1303.5" y="187.2" font-size="26.5" textLength="38" lengthAdjust="spacingAndGlyphs">311</text>
<text x="1284.8" y="227.2" font-size="41" font-style="italic">f</text>
<path d="M1281.6 195.8 h22" stroke="#000" stroke-width="1.7"/>
<text x="1303.5" y="237" font-size="26.5" textLength="38" lengthAdjust="spacingAndGlyphs">411</text>
</g>
<g font-family='"Liberation Serif", "Noto Serif CJK SC", serif' font-size="50" fill="#000">
<text x="847.5" y="713.3" font-size="46">（</text>
<text x="899.3" y="713.6">b</text>
<text x="927.1" y="713.3" font-size="46">）</text>
<text x="971.5" y="713.6" xml:space="preserve"><tspan font-style="italic">a</tspan><tspan font-size="33" dy="1.6">E</tspan><tspan dy="-1.6" dx="1.6">=</tspan><tspan>0.05 and </tspan><tspan font-style="italic">b</tspan><tspan font-size="33" dy="1.6">E</tspan><tspan dy="-1.6" dx="1.6">=</tspan><tspan>0.6</tspan></text>
</g>
</g>
<g id="plot-c">
<path d="M182.78 798.7 V1317.8 M296.26 798.7 V1317.8 M409.74 798.7 V1317.8 M523.22 798.7 V1317.8" stroke="#000" stroke-opacity="0.088" stroke-width="3.0" fill="none"/>
<path d="M69.3 1213.98 H636.7 M69.3 1110.16 H636.7 M69.3 1006.34 H636.7 M69.3 902.52 H636.7" stroke="#000" stroke-opacity="0.088" stroke-width="3.0" fill="none"/>
<rect x="69.3" y="798.7" width="567.4" height="519.1" fill="none" stroke="#7b7b7b" stroke-width="3.3"/>
<path d="M182.78 1317.8 v-5.6 M182.78 798.7 v5.6 M69.3 1213.98 h5.6 M636.7 1213.98 h-5.6 M296.26 1317.8 v-5.6 M296.26 798.7 v5.6 M69.3 1110.16 h5.6 M636.7 1110.16 h-5.6 M409.74 1317.8 v-5.6 M409.74 798.7 v5.6 M69.3 1006.34 h5.6 M636.7 1006.34 h-5.6 M523.22 1317.8 v-5.6 M523.22 798.7 v5.6 M69.3 902.52 h5.6 M636.7 902.52 h-5.6" stroke="#2a2a2a" stroke-width="2.2" fill="none"/>
<clipPath id="clip-c"><rect x="67.8" y="798.7" width="570.4" height="520.7"/></clipPath>
<g clip-path="url(#clip-c)" fill="none">
<path d="M69.3 871.37 L77.96 878.81 L86.61 886.25 L95.25 893.7 L103.86 901.14 L112.47 908.58 L121.06 916.02 L129.63 923.46 L138.2 930.9 L146.75 938.34 L155.28 945.78 L163.81 953.22 L172.32 960.66 L180.82 968.1 L189.3 975.54 L197.78 982.98 L206.25 990.42 L214.7 997.86 L223.14 1005.3 L231.58 1012.74 L240 1020.18 L248.42 1027.62 L256.82 1035.06 L265.22 1042.5 L273.61 1049.94 L281.99 1057.38 L290.36 1064.83 L298.73 1072.27 L307.08 1079.71 L315.43 1087.15 L323.78 1094.59 L332.12 1102.03 L340.45 1109.47 L348.77 1116.91 L357.09 1124.35 L365.41 1131.79 L373.72 1139.23 L382.03 1146.67 L390.33 1154.11 L398.63 1161.55 L406.92 1168.99 L415.22 1176.43 L423.51 1183.87 L431.79 1191.31 L440.08 1198.75 L448.36 1206.19 L456.64 1213.63 L464.92 1221.07 L473.2 1228.51 L481.48 1235.96 L489.75 1243.4 L498.03 1250.84 L506.31 1258.28 L514.59 1265.72 L522.87 1273.16 L531.15 1280.6 L539.43 1288.04 L547.72 1295.48 L556 1302.92 L564.29 1310.36 L572.58 1317.8" stroke="#000000" stroke-width="6.0"/>
<path d="M69.3 874.49 L77.95 881.88 L86.57 889.27 L95.19 896.65 L103.79 904.04 L112.37 911.43 L120.94 918.82 L129.5 926.21 L138.05 933.6 L146.58 940.99 L155.09 948.37 L163.6 955.76 L172.09 963.15 L180.57 970.54 L189.04 977.93 L197.5 985.32 L205.94 992.7 L214.38 1000.09 L222.8 1007.48 L231.22 1014.87 L239.63 1022.26 L248.02 1029.65 L256.41 1037.04 L264.79 1044.42 L273.16 1051.81 L281.52 1059.2 L289.87 1066.59 L298.22 1073.98 L306.55 1081.37 L314.89 1088.76 L323.21 1096.14 L331.53 1103.53 L339.84 1110.92 L348.15 1118.31 L356.45 1125.7 L364.75 1133.09 L373.04 1140.48 L381.33 1147.86 L389.61 1155.25 L397.89 1162.64 L406.17 1170.03 L414.44 1177.42 L422.71 1184.81 L430.98 1192.2 L439.24 1199.58 L447.51 1206.97 L455.77 1214.36 L464.03 1221.75 L472.29 1229.14 L480.55 1236.53 L488.81 1243.91 L497.07 1251.3 L505.33 1258.69 L513.59 1266.08 L521.85 1273.47 L530.11 1280.86 L538.37 1288.25 L546.64 1295.63 L554.91 1303.02 L563.18 1310.41 L571.45 1317.8" stroke="#ff0000" stroke-width="6.4" stroke-dasharray="7.6 3.9"/>
<path d="M69.3 871.37 L77.96 878.81 L86.61 886.25 L95.25 893.7 L103.86 901.14 L112.47 908.58 L121.06 916.02 L129.63 923.46 L138.2 930.9 L146.75 938.34 L155.28 945.78 L163.81 953.22 L172.32 960.66 L180.82 968.1 L189.3 975.54 L197.78 982.98 L206.25 990.42 L214.7 997.86 L223.14 1005.3 L231.58 1012.74 L240 1020.18 L248.42 1027.62 L256.82 1035.06 L265.22 1042.5 L273.61 1049.94 L281.99 1057.38 L290.36 1064.83 L298.73 1072.27 L307.08 1079.71 L315.43 1087.15 L323.78 1094.59 L332.12 1102.03 L340.45 1109.47 L348.77 1116.91 L357.09 1124.35 L365.41 1131.79 L373.72 1139.23 L382.03 1146.67 L390.33 1154.11 L398.63 1161.55 L406.92 1168.99 L415.22 1176.43 L423.51 1183.87 L431.79 1191.31 L440.08 1198.75 L448.36 1206.19 L456.64 1213.63 L464.92 1221.07 L473.2 1228.51 L481.48 1235.96 L489.75 1243.4 L498.03 1250.84 L506.31 1258.28 L514.59 1265.72 L522.87 1273.16 L531.15 1280.6 L539.43 1288.04 L547.72 1295.48 L556 1302.92 L564.29 1310.36 L572.58 1317.8" stroke="#0000ff" stroke-width="5.9" stroke-dasharray="24.7 19.8"/>
<path d="M69.3 873.97 L77.95 881.37 L86.59 888.76 L95.22 896.16 L103.83 903.56 L112.42 910.96 L121 918.35 L129.57 925.75 L138.12 933.15 L146.66 940.54 L155.19 947.94 L163.7 955.34 L172.2 962.74 L180.69 970.13 L189.17 977.53 L197.64 984.93 L206.09 992.32 L214.54 999.72 L222.97 1007.12 L231.4 1014.52 L239.81 1021.91 L248.22 1029.31 L256.62 1036.71 L265 1044.1 L273.38 1051.5 L281.75 1058.9 L290.12 1066.3 L298.47 1073.69 L306.82 1081.09 L315.16 1088.49 L323.5 1095.88 L331.82 1103.28 L340.15 1110.68 L348.46 1118.08 L356.77 1125.47 L365.08 1132.87 L373.38 1140.27 L381.68 1147.66 L389.97 1155.06 L398.26 1162.46 L406.55 1169.86 L414.83 1177.25 L423.11 1184.65 L431.39 1192.05 L439.66 1199.45 L447.93 1206.84 L456.2 1214.24 L464.47 1221.64 L472.74 1229.03 L481.01 1236.43 L489.28 1243.83 L497.55 1251.23 L505.82 1258.62 L514.09 1266.02 L522.36 1273.42 L530.63 1280.81 L538.9 1288.21 L547.18 1295.61 L555.45 1303.01 L563.73 1310.4 L572.02 1317.8" stroke="#ff00ff" stroke-width="6.4" stroke-dasharray="25.5 2.4 14.2 2.4"/>
<path d="M69.3 1002.19 L75.9 1007.45 L82.49 1012.71 L89.06 1017.97 L95.62 1023.23 L102.16 1028.49 L108.69 1033.75 L115.2 1039.01 L121.7 1044.27 L128.19 1049.53 L134.67 1054.79 L141.13 1060.05 L147.58 1065.31 L154.02 1070.57 L160.44 1075.83 L166.86 1081.09 L173.26 1086.35 L179.65 1091.61 L186.04 1096.87 L192.41 1102.13 L198.77 1107.39 L205.13 1112.65 L211.47 1117.91 L217.81 1123.17 L224.13 1128.43 L230.45 1133.69 L236.76 1138.95 L243.06 1144.21 L249.36 1149.47 L255.65 1154.73 L261.93 1159.99 L268.21 1165.25 L274.48 1170.51 L280.74 1175.77 L287 1181.03 L293.26 1186.29 L299.51 1191.55 L305.75 1196.82 L311.99 1202.08 L318.23 1207.34 L324.46 1212.6 L330.69 1217.86 L336.92 1223.12 L343.14 1228.38 L349.37 1233.64 L355.59 1238.9 L361.81 1244.16 L368.03 1249.42 L374.24 1254.68 L380.46 1259.94 L386.68 1265.2 L392.89 1270.46 L399.11 1275.72 L405.33 1280.98 L411.54 1286.24 L417.76 1291.5 L423.98 1296.76 L430.21 1302.02 L436.43 1307.28 L442.66 1312.54 L448.89 1317.8" stroke="#000000" stroke-width="6.0"/>
<path d="M69.3 1006.34 L75.86 1011.53 L82.41 1016.72 L88.95 1021.91 L95.47 1027.1 L101.97 1032.3 L108.46 1037.49 L114.94 1042.68 L121.4 1047.87 L127.85 1053.06 L134.29 1058.25 L140.71 1063.44 L147.12 1068.63 L153.52 1073.82 L159.91 1079.01 L166.29 1084.2 L172.66 1089.4 L179.01 1094.59 L185.36 1099.78 L191.69 1104.97 L198.02 1110.16 L204.33 1115.35 L210.64 1120.54 L216.94 1125.73 L223.22 1130.92 L229.51 1136.12 L235.78 1141.31 L242.04 1146.5 L248.3 1151.69 L254.55 1156.88 L260.8 1162.07 L267.04 1167.26 L273.27 1172.45 L279.49 1177.64 L285.72 1182.83 L291.93 1188.03 L298.14 1193.22 L304.35 1198.41 L310.55 1203.6 L316.75 1208.79 L322.95 1213.98 L329.14 1219.17 L335.33 1224.36 L341.52 1229.55 L347.7 1234.74 L353.89 1239.93 L360.07 1245.13 L366.25 1250.32 L372.43 1255.51 L378.61 1260.7 L384.78 1265.89 L390.96 1271.08 L397.14 1276.27 L403.32 1281.46 L409.5 1286.65 L415.68 1291.85 L421.87 1297.04 L428.05 1302.23 L434.24 1307.42 L440.43 1312.61 L446.62 1317.8" stroke="#ff0000" stroke-width="6.4" stroke-dasharray="7.6 3.9"/>
<path d="M69.3 1000.11 L75.91 1005.41 L82.51 1010.7 L89.09 1016 L95.66 1021.29 L102.21 1026.58 L108.75 1031.88 L115.27 1037.17 L121.78 1042.47 L128.28 1047.76 L134.76 1053.06 L141.23 1058.35 L147.69 1063.65 L154.14 1068.94 L160.57 1074.24 L167 1079.53 L173.41 1084.83 L179.81 1090.12 L186.21 1095.42 L192.59 1100.71 L198.96 1106.01 L205.32 1111.3 L211.68 1116.6 L218.02 1121.89 L224.36 1127.19 L230.69 1132.48 L237.01 1137.78 L243.32 1143.07 L249.63 1148.37 L255.92 1153.66 L262.22 1158.96 L268.5 1164.25 L274.78 1169.55 L281.06 1174.84 L287.32 1180.13 L293.59 1185.43 L299.85 1190.72 L306.1 1196.02 L312.35 1201.31 L318.6 1206.61 L324.84 1211.9 L331.08 1217.2 L337.32 1222.49 L343.55 1227.79 L349.78 1233.08 L356.01 1238.38 L362.24 1243.67 L368.47 1248.97 L374.7 1254.26 L380.92 1259.56 L387.15 1264.85 L393.37 1270.15 L399.6 1275.44 L405.83 1280.74 L412.05 1286.03 L418.28 1291.33 L424.51 1296.62 L430.75 1301.92 L436.98 1307.21 L443.22 1312.51 L449.46 1317.8" stroke="#0000ff" stroke-width="5.9" stroke-dasharray="24.7 19.8"/>
<path d="M69.3 1004.26 L75.88 1009.49 L82.45 1014.71 L89 1019.94 L95.54 1025.17 L102.07 1030.39 L108.58 1035.62 L115.07 1040.84 L121.55 1046.07 L128.02 1051.29 L134.48 1056.52 L140.92 1061.75 L147.35 1066.97 L153.77 1072.2 L160.18 1077.42 L166.57 1082.65 L172.96 1087.87 L179.33 1093.1 L185.7 1098.32 L192.05 1103.55 L198.39 1108.78 L204.73 1114 L211.05 1119.23 L217.37 1124.45 L223.68 1129.68 L229.98 1134.9 L236.27 1140.13 L242.55 1145.35 L248.83 1150.58 L255.1 1155.81 L261.36 1161.03 L267.62 1166.26 L273.87 1171.48 L280.12 1176.71 L286.36 1181.93 L292.59 1187.16 L298.82 1192.39 L305.05 1197.61 L311.27 1202.84 L317.49 1208.06 L323.71 1213.29 L329.92 1218.51 L336.13 1223.74 L342.33 1228.96 L348.54 1234.19 L354.74 1239.42 L360.94 1244.64 L367.14 1249.87 L373.34 1255.09 L379.53 1260.32 L385.73 1265.54 L391.93 1270.77 L398.13 1276 L404.32 1281.22 L410.52 1286.45 L416.72 1291.67 L422.93 1296.9 L429.13 1302.12 L435.34 1307.35 L441.54 1312.57 L447.76 1317.8" stroke="#ff00ff" stroke-width="6.4" stroke-dasharray="25.5 2.4 14.2 2.4"/>
<path d="M69.3 1115.35 L73.97 1118.73 L78.63 1122.1 L83.27 1125.47 L87.9 1128.85 L92.51 1132.22 L97.11 1135.6 L101.7 1138.97 L106.27 1142.34 L110.83 1145.72 L115.37 1149.09 L119.91 1152.47 L124.43 1155.84 L128.94 1159.21 L133.43 1162.59 L137.92 1165.96 L142.39 1169.34 L146.86 1172.71 L151.31 1176.09 L155.76 1179.46 L160.19 1182.83 L164.61 1186.21 L169.03 1189.58 L173.43 1192.96 L177.83 1196.33 L182.22 1199.7 L186.6 1203.08 L190.98 1206.45 L195.34 1209.83 L199.7 1213.2 L204.06 1216.58 L208.4 1219.95 L212.75 1223.32 L217.08 1226.7 L221.41 1230.07 L225.74 1233.45 L230.06 1236.82 L234.37 1240.19 L238.68 1243.57 L242.99 1246.94 L247.3 1250.32 L251.6 1253.69 L255.9 1257.07 L260.19 1260.44 L264.48 1263.81 L268.78 1267.19 L273.07 1270.56 L277.36 1273.94 L281.64 1277.31 L285.93 1280.68 L290.22 1284.06 L294.51 1287.43 L298.79 1290.81 L303.08 1294.18 L307.37 1297.56 L311.66 1300.93 L315.95 1304.3 L320.25 1307.68 L324.54 1311.05 L328.84 1314.43 L333.14 1317.8" stroke="#000000" stroke-width="6.0"/>
<path d="M69.3 1116.39 L73.95 1119.75 L78.59 1123.1 L83.22 1126.46 L87.83 1129.82 L92.42 1133.17 L97 1136.53 L101.57 1139.89 L106.12 1143.24 L110.66 1146.6 L115.19 1149.96 L119.7 1153.31 L124.2 1156.67 L128.69 1160.03 L133.17 1163.39 L137.64 1166.74 L142.09 1170.1 L146.54 1173.46 L150.97 1176.81 L155.4 1180.17 L159.81 1183.53 L164.22 1186.88 L168.61 1190.24 L173 1193.6 L177.38 1196.95 L181.75 1200.31 L186.11 1203.67 L190.47 1207.02 L194.81 1210.38 L199.16 1213.74 L203.49 1217.09 L207.82 1220.45 L212.14 1223.81 L216.46 1227.17 L220.77 1230.52 L225.07 1233.88 L229.37 1237.24 L233.67 1240.59 L237.96 1243.95 L242.25 1247.31 L246.54 1250.66 L250.82 1254.02 L255.1 1257.38 L259.38 1260.73 L263.65 1264.09 L267.93 1267.45 L272.2 1270.8 L276.47 1274.16 L280.74 1277.52 L285 1280.87 L289.27 1284.23 L293.54 1287.59 L297.81 1290.95 L302.08 1294.3 L306.35 1297.66 L310.62 1301.02 L314.89 1304.37 L319.17 1307.73 L323.44 1311.09 L327.72 1314.44 L332.01 1317.8" stroke="#ff0000" stroke-width="6.4" stroke-dasharray="7.6 3.9"/>
<path d="M69.3 1112.24 L74.17 1115.66 L79.03 1119.09 L83.87 1122.51 L88.7 1125.94 L93.51 1129.37 L98.31 1132.79 L103.09 1136.22 L107.86 1139.64 L112.62 1143.07 L117.36 1146.5 L122.09 1149.92 L126.81 1153.35 L131.52 1156.78 L136.21 1160.2 L140.9 1163.63 L145.57 1167.05 L150.23 1170.48 L154.89 1173.91 L159.53 1177.33 L164.16 1180.76 L168.78 1184.18 L173.4 1187.61 L178 1191.04 L182.6 1194.46 L187.19 1197.89 L191.77 1201.31 L196.34 1204.74 L200.9 1208.17 L205.46 1211.59 L210.02 1215.02 L214.56 1218.44 L219.1 1221.87 L223.63 1225.3 L228.16 1228.72 L232.69 1232.15 L237.21 1235.57 L241.72 1239 L246.23 1242.43 L250.74 1245.85 L255.24 1249.28 L259.74 1252.7 L264.24 1256.13 L268.73 1259.56 L273.22 1262.98 L277.71 1266.41 L282.2 1269.84 L286.69 1273.26 L291.18 1276.69 L295.66 1280.11 L300.15 1283.54 L304.63 1286.97 L309.12 1290.39 L313.61 1293.82 L318.09 1297.24 L322.58 1300.67 L327.07 1304.1 L331.57 1307.52 L336.06 1310.95 L340.56 1314.37 L345.06 1317.8" stroke="#0000ff" stroke-width="5.9" stroke-dasharray="24.7 19.8"/>
<path d="M69.3 1119.5 L73.94 1122.81 L78.56 1126.11 L83.16 1129.42 L87.75 1132.72 L92.33 1136.03 L96.89 1139.33 L101.43 1142.64 L105.97 1145.94 L110.49 1149.25 L115 1152.55 L119.49 1155.86 L123.97 1159.16 L128.45 1162.47 L132.9 1165.77 L137.35 1169.08 L141.79 1172.38 L146.22 1175.69 L150.63 1178.99 L155.04 1182.3 L159.43 1185.6 L163.82 1188.91 L168.2 1192.21 L172.56 1195.52 L176.92 1198.82 L181.28 1202.13 L185.62 1205.43 L189.96 1208.74 L194.29 1212.04 L198.61 1215.35 L202.92 1218.65 L207.23 1221.96 L211.53 1225.26 L215.83 1228.57 L220.12 1231.87 L224.41 1235.18 L228.69 1238.48 L232.97 1241.79 L237.25 1245.09 L241.52 1248.4 L245.78 1251.7 L250.05 1255.01 L254.31 1258.31 L258.56 1261.62 L262.82 1264.92 L267.07 1268.23 L271.33 1271.53 L275.58 1274.84 L279.83 1278.14 L284.08 1281.45 L288.33 1284.75 L292.58 1288.06 L296.83 1291.36 L301.08 1294.67 L305.33 1297.97 L309.58 1301.28 L313.83 1304.58 L318.09 1307.89 L322.35 1311.19 L326.61 1314.5 L330.87 1317.8" stroke="#ff00ff" stroke-width="6.4" stroke-dasharray="25.5 2.4 14.2 2.4"/>
</g>
<g font-family='"Liberation Sans", Arial, sans-serif' font-size="33" fill="#000">
<text x="68.5" y="1366.2" text-anchor="middle">0</text>
<text x="181.98" y="1366.2" text-anchor="middle">0.2</text>
<text x="295.46" y="1366.2" text-anchor="middle">0.4</text>
<text x="408.94" y="1366.2" text-anchor="middle">0.6</text>
<text x="522.42" y="1366.2" text-anchor="middle">0.8</text>
<text x="635.9" y="1366.2" text-anchor="middle">1</text>
<text x="54.7" y="1331.2" text-anchor="end">0</text>
<text x="54.7" y="1227.38" text-anchor="end">0.2</text>
<text x="54.7" y="1123.56" text-anchor="end">0.4</text>
<text x="54.7" y="1019.74" text-anchor="end">0.6</text>
<text x="54.7" y="915.92" text-anchor="end">0.8</text>
<text x="54.7" y="812.1" text-anchor="end">1</text>
</g>
<g font-family='"Liberation Sans", Arial, sans-serif' font-size="38.4" fill="#000">
<text x="260.8" y="1034.6">n=0.1</text>
<text x="249.8" y="1146.2">n=0.3</text>
<text x="119.1" y="1263.6">n=0.5</text>
</g>
<g font-family='"Liberation Serif", "Times New Roman", serif' font-style="italic" fill="#000">
<text x="7.2" y="1060.4" font-size="31" textLength="25.2" lengthAdjust="spacingAndGlyphs">m</text>
<text x="32.3" y="1077.7" font-size="25.5">z</text>
<text x="331.5" y="1354.6" font-size="31" textLength="25.2" lengthAdjust="spacingAndGlyphs">m</text>
<text x="357.4" y="1372.5" font-size="24.5">y</text>
</g>
<path d="M403.9 853.1 H500.4" stroke="#000000" stroke-width="6.0" fill="none"/>
<path d="M403.9 902 H500.4" stroke="#ff0000" stroke-width="6.4" fill="none" stroke-dasharray="7.6 3.9"/>
<path d="M403.9 952.4 H500.4" stroke="#0000ff" stroke-width="5.9" fill="none" stroke-dasharray="24.7 19.8"/>
<path d="M403.9 1002.2 H500.4" stroke="#ff00ff" stroke-width="6.4" fill="none" stroke-dasharray="25.5 2.4 14.2 2.4"/>
<g font-family='"Liberation Serif", "Times New Roman", serif' fill="#000">
<text x="511" y="862.3" font-size="41" textLength="81" lengthAdjust="spacingAndGlyphs">GYF</text>
<text x="514.5" y="911.8" font-size="41" font-style="italic">f</text>
<path d="M511.3 880.4 h22" stroke="#000" stroke-width="1.7"/>
<text x="533.2" y="921.6" font-size="26.5" textLength="38" lengthAdjust="spacingAndGlyphs">211</text>
<text x="514.5" y="962.2" font-size="41" font-style="italic">f</text>
<path d="M511.3 930.8 h22" stroke="#000" stroke-width="1.7"/>
<text x="533.2" y="972" font-size="26.5" textLength="38" lengthAdjust="spacingAndGlyphs">311</text>
<text x="514.5" y="1012" font-size="41" font-style="italic">f</text>
<path d="M511.3 980.6 h22" stroke="#000" stroke-width="1.7"/>
<text x="533.2" y="1021.8" font-size="26.5" textLength="38" lengthAdjust="spacingAndGlyphs">411</text>
</g>
<g font-family='"Liberation Serif", "Noto Serif CJK SC", serif' font-size="50" fill="#000">
<text x="76.9" y="1498.1" font-size="46">（</text>
<text x="128.7" y="1498.4">c</text>
<text x="156.5" y="1498.1" font-size="46">）</text>
<text x="200.9" y="1498.4"><tspan font-style="italic">a</tspan><tspan font-size="33" dy="1.6">E</tspan><tspan dy="-1.6" dx="1.6">=</tspan><tspan>0.1</tspan></text>
<text x="364.5" y="1498.4">and</text>
<text x="461.3" y="1498.4"><tspan font-style="italic">b</tspan><tspan font-size="33" dy="1.6">E</tspan><tspan dy="-1.6" dx="1.6">=</tspan><tspan>0.2</tspan></text>
</g>
</g>
<g id="plot-d">
<path d="M953 798.7 V1317.8 M1066.5 798.7 V1317.8 M1180 798.7 V1317.8 M1293.5 798.7 V1317.8" stroke="#000" stroke-opacity="0.088" stroke-width="3.0" fill="none"/>
<path d="M839.5 1213.98 H1407 M839.5 1110.16 H1407 M839.5 1006.34 H1407 M839.5 902.52 H1407" stroke="#000" stroke-opacity="0.088" stroke-width="3.0" fill="none"/>
<rect x="839.5" y="798.7" width="567.5" height="519.1" fill="none" stroke="#7b7b7b" stroke-width="3.3"/>
<path d="M953 1317.8 v-5.6 M953 798.7 v5.6 M839.5 1213.98 h5.6 M1407 1213.98 h-5.6 M1066.5 1317.8 v-5.6 M1066.5 798.7 v5.6 M839.5 1110.16 h5.6 M1407 1110.16 h-5.6 M1180 1317.8 v-5.6 M1180 798.7 v5.6 M839.5 1006.34 h5.6 M1407 1006.34 h-5.6 M1293.5 1317.8 v-5.6 M1293.5 798.7 v5.6 M839.5 902.52 h5.6 M1407 902.52 h-5.6" stroke="#2a2a2a" stroke-width="2.2" fill="none"/>
<clipPath id="clip-d"><rect x="838" y="798.7" width="570.5" height="520.7"/></clipPath>
<g clip-path="url(#clip-d)" fill="none">
<path d="M839.5 873.45 L848.14 880.86 L856.76 888.26 L865.37 895.67 L873.96 903.07 L882.53 910.48 L891.1 917.89 L899.65 925.29 L908.18 932.7 L916.7 940.1 L925.21 947.51 L933.71 954.91 L942.19 962.32 L950.67 969.73 L959.13 977.13 L967.58 984.54 L976.02 991.94 L984.44 999.35 L992.86 1006.76 L1001.27 1014.16 L1009.67 1021.57 L1018.05 1028.97 L1026.43 1036.38 L1034.8 1043.78 L1043.16 1051.19 L1051.52 1058.6 L1059.86 1066 L1068.2 1073.41 L1076.53 1080.81 L1084.86 1088.22 L1093.17 1095.63 L1101.48 1103.03 L1109.79 1110.44 L1118.09 1117.84 L1126.38 1125.25 L1134.67 1132.65 L1142.95 1140.06 L1151.23 1147.47 L1159.51 1154.87 L1167.78 1162.28 L1176.05 1169.68 L1184.31 1177.09 L1192.58 1184.5 L1200.84 1191.9 L1209.09 1199.31 L1217.35 1206.71 L1225.6 1214.12 L1233.86 1221.52 L1242.11 1228.93 L1250.36 1236.34 L1258.61 1243.74 L1266.86 1251.15 L1275.11 1258.55 L1283.36 1265.96 L1291.62 1273.37 L1299.87 1280.77 L1308.13 1288.18 L1316.38 1295.58 L1324.64 1302.99 L1332.9 1310.39 L1341.17 1317.8" stroke="#000000" stroke-width="6.0"/>
<path d="M839.5 877.6 L848.07 884.94 L856.63 892.28 L865.17 899.61 L873.69 906.95 L882.2 914.29 L890.7 921.62 L899.18 928.96 L907.65 936.3 L916.11 943.63 L924.55 950.97 L932.98 958.31 L941.4 965.64 L949.81 972.98 L958.2 980.32 L966.58 987.65 L974.96 994.99 L983.32 1002.33 L991.67 1009.66 L1000.01 1017 L1008.34 1024.34 L1016.66 1031.67 L1024.98 1039.01 L1033.28 1046.35 L1041.58 1053.68 L1049.86 1061.02 L1058.14 1068.36 L1066.41 1075.69 L1074.68 1083.03 L1082.94 1090.36 L1091.19 1097.7 L1099.43 1105.04 L1107.67 1112.37 L1115.9 1119.71 L1124.13 1127.05 L1132.35 1134.38 L1140.57 1141.72 L1148.78 1149.06 L1156.99 1156.39 L1165.2 1163.73 L1173.4 1171.07 L1181.6 1178.4 L1189.8 1185.74 L1197.99 1193.08 L1206.18 1200.41 L1214.37 1207.75 L1222.56 1215.09 L1230.74 1222.42 L1238.93 1229.76 L1247.11 1237.1 L1255.3 1244.43 L1263.48 1251.77 L1271.67 1259.11 L1279.85 1266.44 L1288.04 1273.78 L1296.23 1281.12 L1304.42 1288.45 L1312.61 1295.79 L1320.8 1303.13 L1329 1310.46 L1337.2 1317.8" stroke="#ff0000" stroke-width="6.4" stroke-dasharray="7.6 3.9"/>
<path d="M839.5 872.41 L848.15 879.84 L856.78 887.26 L865.39 894.68 L873.99 902.1 L882.58 909.53 L891.15 916.95 L899.71 924.37 L908.26 931.8 L916.79 939.22 L925.31 946.64 L933.81 954.07 L942.31 961.49 L950.79 968.91 L959.26 976.34 L967.72 983.76 L976.17 991.18 L984.6 998.61 L993.03 1006.03 L1001.45 1013.45 L1009.86 1020.87 L1018.25 1028.3 L1026.64 1035.72 L1035.02 1043.14 L1043.39 1050.57 L1051.75 1057.99 L1060.11 1065.41 L1068.46 1072.84 L1076.8 1080.26 L1085.13 1087.68 L1093.46 1095.11 L1101.78 1102.53 L1110.09 1109.95 L1118.4 1117.38 L1126.7 1124.8 L1135 1132.22 L1143.29 1139.64 L1151.58 1147.07 L1159.87 1154.49 L1168.15 1161.91 L1176.43 1169.34 L1184.7 1176.76 L1192.97 1184.18 L1201.24 1191.61 L1209.51 1199.03 L1217.77 1206.45 L1226.04 1213.88 L1234.3 1221.3 L1242.56 1228.72 L1250.82 1236.15 L1259.08 1243.57 L1267.34 1250.99 L1275.6 1258.41 L1283.86 1265.84 L1292.13 1273.26 L1300.39 1280.68 L1308.66 1288.11 L1316.92 1295.53 L1325.19 1302.95 L1333.46 1310.38 L1341.74 1317.8" stroke="#0000ff" stroke-width="5.9" stroke-dasharray="24.7 19.8"/>
<path d="M839.5 875.53 L848.13 882.9 L856.74 890.27 L865.34 897.64 L873.92 905.01 L882.49 912.38 L891.04 919.75 L899.58 927.13 L908.11 934.5 L916.62 941.87 L925.12 949.24 L933.61 956.61 L942.08 963.98 L950.54 971.35 L959 978.72 L967.44 986.1 L975.86 993.47 L984.28 1000.84 L992.69 1008.21 L1001.09 1015.58 L1009.48 1022.95 L1017.86 1030.32 L1026.22 1037.69 L1034.59 1045.06 L1042.94 1052.44 L1051.28 1059.81 L1059.62 1067.18 L1067.95 1074.55 L1076.27 1081.92 L1084.58 1089.29 L1092.89 1096.66 L1101.19 1104.03 L1109.49 1111.41 L1117.78 1118.78 L1126.06 1126.15 L1134.34 1133.52 L1142.61 1140.89 L1150.88 1148.26 L1159.15 1155.63 L1167.41 1163 L1175.67 1170.38 L1183.93 1177.75 L1192.18 1185.12 L1200.43 1192.49 L1208.68 1199.86 L1216.92 1207.23 L1225.17 1214.6 L1233.41 1221.97 L1241.65 1229.35 L1249.89 1236.72 L1258.14 1244.09 L1266.38 1251.46 L1274.62 1258.83 L1282.86 1266.2 L1291.11 1273.57 L1299.35 1280.94 L1307.6 1288.32 L1315.84 1295.69 L1324.09 1303.06 L1332.35 1310.43 L1340.6 1317.8" stroke="#ff00ff" stroke-width="6.4" stroke-dasharray="25.5 2.4 14.2 2.4"/>
<path d="M839.5 1008.42 L846.02 1013.57 L852.52 1018.73 L859.01 1023.89 L865.48 1029.04 L871.94 1034.2 L878.39 1039.35 L884.82 1044.51 L891.23 1049.67 L897.64 1054.82 L904.03 1059.98 L910.4 1065.14 L916.77 1070.29 L923.12 1075.45 L929.47 1080.61 L935.8 1085.76 L942.12 1090.92 L948.43 1096.08 L954.73 1101.23 L961.01 1106.39 L967.29 1111.54 L973.56 1116.7 L979.82 1121.86 L986.07 1127.01 L992.32 1132.17 L998.55 1137.33 L1004.78 1142.48 L1011 1147.64 L1017.21 1152.8 L1023.41 1157.95 L1029.61 1163.11 L1035.8 1168.26 L1041.99 1173.42 L1048.17 1178.58 L1054.35 1183.73 L1060.52 1188.89 L1066.68 1194.05 L1072.84 1199.2 L1079 1204.36 L1085.15 1209.52 L1091.3 1214.67 L1097.45 1219.83 L1103.59 1224.98 L1109.73 1230.14 L1115.87 1235.3 L1122.01 1240.45 L1128.14 1245.61 L1134.28 1250.77 L1140.41 1255.92 L1146.54 1261.08 L1152.68 1266.24 L1158.81 1271.39 L1164.94 1276.55 L1171.07 1281.71 L1177.21 1286.86 L1183.34 1292.02 L1189.48 1297.17 L1195.62 1302.33 L1201.76 1307.49 L1207.9 1312.64 L1214.05 1317.8" stroke="#000000" stroke-width="6.0"/>
<path d="M839.5 1013.09 L845.9 1018.17 L852.28 1023.25 L858.64 1028.32 L864.99 1033.4 L871.33 1038.48 L877.65 1043.56 L883.95 1048.64 L890.25 1053.72 L896.53 1058.8 L902.8 1063.87 L909.05 1068.95 L915.3 1074.03 L921.53 1079.11 L927.75 1084.19 L933.95 1089.27 L940.15 1094.34 L946.34 1099.42 L952.51 1104.5 L958.68 1109.58 L964.83 1114.66 L970.98 1119.74 L977.12 1124.82 L983.25 1129.89 L989.37 1134.97 L995.48 1140.05 L1001.58 1145.13 L1007.68 1150.21 L1013.77 1155.29 L1019.85 1160.37 L1025.92 1165.44 L1031.99 1170.52 L1038.06 1175.6 L1044.11 1180.68 L1050.17 1185.76 L1056.21 1190.84 L1062.26 1195.92 L1068.29 1200.99 L1074.33 1206.07 L1080.36 1211.15 L1086.38 1216.23 L1092.41 1221.31 L1098.43 1226.39 L1104.45 1231.47 L1110.46 1236.54 L1116.48 1241.62 L1122.49 1246.7 L1128.5 1251.78 L1134.51 1256.86 L1140.52 1261.94 L1146.53 1267.01 L1152.54 1272.09 L1158.55 1277.17 L1164.56 1282.25 L1170.57 1287.33 L1176.58 1292.41 L1182.59 1297.49 L1188.61 1302.56 L1194.63 1307.64 L1200.65 1312.72 L1206.67 1317.8" stroke="#ff0000" stroke-width="6.4" stroke-dasharray="7.6 3.9"/>
<path d="M839.5 1007.38 L846.03 1012.55 L852.54 1017.73 L859.04 1022.9 L865.52 1028.07 L871.99 1033.25 L878.44 1038.42 L884.88 1043.59 L891.31 1048.77 L897.72 1053.94 L904.12 1059.12 L910.51 1064.29 L916.88 1069.46 L923.25 1074.64 L929.6 1079.81 L935.94 1084.98 L942.27 1090.16 L948.59 1095.33 L954.9 1100.5 L961.19 1105.68 L967.48 1110.85 L973.76 1116.03 L980.03 1121.2 L986.29 1126.37 L992.54 1131.55 L998.79 1136.72 L1005.02 1141.89 L1011.25 1147.07 L1017.47 1152.24 L1023.69 1157.42 L1029.9 1162.59 L1036.1 1167.76 L1042.29 1172.94 L1048.48 1178.11 L1054.67 1183.28 L1060.85 1188.46 L1067.02 1193.63 L1073.19 1198.8 L1079.36 1203.98 L1085.52 1209.15 L1091.68 1214.33 L1097.84 1219.5 L1103.99 1224.67 L1110.14 1229.85 L1116.29 1235.02 L1122.43 1240.19 L1128.58 1245.37 L1134.72 1250.54 L1140.87 1255.72 L1147.01 1260.89 L1153.15 1266.06 L1159.29 1271.24 L1165.43 1276.41 L1171.58 1281.58 L1177.72 1286.76 L1183.86 1291.93 L1190.01 1297.11 L1196.16 1302.28 L1202.31 1307.45 L1208.46 1312.63 L1214.62 1317.8" stroke="#0000ff" stroke-width="5.9" stroke-dasharray="24.7 19.8"/>
<path d="M839.5 1010.49 L846 1015.61 L852.48 1020.74 L858.95 1025.86 L865.41 1030.98 L871.85 1036.1 L878.27 1041.22 L884.68 1046.35 L891.08 1051.47 L897.47 1056.59 L903.84 1061.71 L910.2 1066.83 L916.54 1071.95 L922.88 1077.08 L929.2 1082.2 L935.51 1087.32 L941.81 1092.44 L948.1 1097.56 L954.38 1102.68 L960.65 1107.81 L966.91 1112.93 L973.16 1118.05 L979.41 1123.17 L985.64 1128.29 L991.86 1133.42 L998.08 1138.54 L1004.29 1143.66 L1010.49 1148.78 L1016.68 1153.9 L1022.87 1159.02 L1029.05 1164.15 L1035.22 1169.27 L1041.39 1174.39 L1047.55 1179.51 L1053.7 1184.63 L1059.85 1189.76 L1066 1194.88 L1072.14 1200 L1078.28 1205.12 L1084.41 1210.24 L1090.55 1215.36 L1096.67 1220.49 L1102.8 1225.61 L1108.92 1230.73 L1115.04 1235.85 L1121.16 1240.97 L1127.27 1246.09 L1133.39 1251.22 L1139.5 1256.34 L1145.62 1261.46 L1151.73 1266.58 L1157.84 1271.7 L1163.96 1276.83 L1170.07 1281.95 L1176.19 1287.07 L1182.3 1292.19 L1188.42 1297.31 L1194.54 1302.43 L1200.66 1307.56 L1206.79 1312.68 L1212.91 1317.8" stroke="#ff00ff" stroke-width="6.4" stroke-dasharray="25.5 2.4 14.2 2.4"/>
<path d="M839.5 1126.77 L844 1129.96 L848.49 1133.14 L852.97 1136.32 L857.42 1139.51 L861.87 1142.69 L866.3 1145.87 L870.71 1149.06 L875.12 1152.24 L879.5 1155.43 L883.88 1158.61 L888.24 1161.79 L892.6 1164.98 L896.93 1168.16 L901.26 1171.34 L905.58 1174.53 L909.88 1177.71 L914.18 1180.9 L918.46 1184.08 L922.74 1187.26 L927 1190.45 L931.25 1193.63 L935.5 1196.82 L939.74 1200 L943.97 1203.18 L948.19 1206.37 L952.4 1209.55 L956.6 1212.73 L960.8 1215.92 L964.99 1219.1 L969.17 1222.29 L973.35 1225.47 L977.52 1228.65 L981.69 1231.84 L985.85 1235.02 L990 1238.2 L994.16 1241.39 L998.3 1244.57 L1002.44 1247.76 L1006.58 1250.94 L1010.72 1254.12 L1014.85 1257.31 L1018.98 1260.49 L1023.1 1263.68 L1027.23 1266.86 L1031.35 1270.04 L1035.47 1273.23 L1039.59 1276.41 L1043.71 1279.59 L1047.83 1282.78 L1051.94 1285.96 L1056.06 1289.15 L1060.18 1292.33 L1064.3 1295.51 L1068.42 1298.7 L1072.54 1301.88 L1076.66 1305.06 L1080.79 1308.25 L1084.91 1311.43 L1089.04 1314.62 L1093.17 1317.8" stroke="#000000" stroke-width="6.0"/>
<path d="M839.5 1127.81 L843.98 1130.98 L848.45 1134.14 L852.91 1137.31 L857.35 1140.48 L861.77 1143.64 L866.18 1146.81 L870.58 1149.97 L874.96 1153.14 L879.33 1156.31 L883.69 1159.47 L888.04 1162.64 L892.37 1165.81 L896.69 1168.97 L901 1172.14 L905.29 1175.31 L909.58 1178.47 L913.86 1181.64 L918.12 1184.81 L922.38 1187.97 L926.62 1191.14 L930.86 1194.31 L935.08 1197.47 L939.3 1200.64 L943.51 1203.81 L947.71 1206.97 L951.91 1210.14 L956.09 1213.31 L960.27 1216.47 L964.44 1219.64 L968.61 1222.8 L972.76 1225.97 L976.92 1229.14 L981.06 1232.3 L985.21 1235.47 L989.34 1238.64 L993.47 1241.8 L997.6 1244.97 L1001.72 1248.14 L1005.84 1251.3 L1009.96 1254.47 L1014.07 1257.64 L1018.18 1260.8 L1022.29 1263.97 L1026.4 1267.14 L1030.5 1270.3 L1034.6 1273.47 L1038.7 1276.64 L1042.8 1279.8 L1046.9 1282.97 L1051 1286.13 L1055.1 1289.3 L1059.2 1292.47 L1063.3 1295.63 L1067.4 1298.8 L1071.5 1301.97 L1075.6 1305.13 L1079.71 1308.3 L1083.81 1311.47 L1087.92 1314.63 L1092.04 1317.8" stroke="#ff0000" stroke-width="6.4" stroke-dasharray="7.6 3.9"/>
<path d="M839.5 1122.1 L844.09 1125.36 L848.66 1128.62 L853.22 1131.88 L857.76 1135.15 L862.29 1138.41 L866.81 1141.67 L871.31 1144.93 L875.8 1148.19 L880.27 1151.45 L884.73 1154.72 L889.18 1157.98 L893.62 1161.24 L898.04 1164.5 L902.45 1167.76 L906.86 1171.02 L911.25 1174.29 L915.63 1177.55 L919.99 1180.81 L924.35 1184.07 L928.7 1187.33 L933.04 1190.59 L937.37 1193.86 L941.7 1197.12 L946.01 1200.38 L950.31 1203.64 L954.61 1206.9 L958.9 1210.16 L963.18 1213.43 L967.46 1216.69 L971.73 1219.95 L975.99 1223.21 L980.25 1226.47 L984.5 1229.73 L988.74 1233 L992.98 1236.26 L997.22 1239.52 L1001.45 1242.78 L1005.68 1246.04 L1009.9 1249.3 L1014.12 1252.57 L1018.34 1255.83 L1022.55 1259.09 L1026.76 1262.35 L1030.97 1265.61 L1035.18 1268.87 L1039.39 1272.14 L1043.59 1275.4 L1047.8 1278.66 L1052 1281.92 L1056.2 1285.18 L1060.4 1288.44 L1064.61 1291.71 L1068.81 1294.97 L1073.01 1298.23 L1077.22 1301.49 L1081.43 1304.75 L1085.64 1308.01 L1089.85 1311.28 L1094.06 1314.54 L1098.28 1317.8" stroke="#0000ff" stroke-width="5.9" stroke-dasharray="24.7 19.8"/>
<path d="M839.5 1132.48 L843.97 1135.57 L848.42 1138.66 L852.85 1141.75 L857.27 1144.84 L861.68 1147.92 L866.07 1151.01 L870.45 1154.1 L874.81 1157.19 L879.16 1160.28 L883.5 1163.37 L887.83 1166.46 L892.14 1169.55 L896.44 1172.63 L900.73 1175.72 L905.01 1178.81 L909.28 1181.9 L913.53 1184.99 L917.78 1188.08 L922.02 1191.17 L926.24 1194.25 L930.46 1197.34 L934.67 1200.43 L938.87 1203.52 L943.06 1206.61 L947.24 1209.7 L951.41 1212.79 L955.58 1215.87 L959.74 1218.96 L963.89 1222.05 L968.04 1225.14 L972.18 1228.23 L976.31 1231.32 L980.44 1234.41 L984.56 1237.5 L988.68 1240.58 L992.79 1243.67 L996.9 1246.76 L1001.01 1249.85 L1005.11 1252.94 L1009.2 1256.03 L1013.3 1259.12 L1017.39 1262.2 L1021.48 1265.29 L1025.56 1268.38 L1029.65 1271.47 L1033.73 1274.56 L1037.81 1277.65 L1041.89 1280.74 L1045.97 1283.82 L1050.05 1286.91 L1054.13 1290 L1058.21 1293.09 L1062.29 1296.18 L1066.38 1299.27 L1070.46 1302.36 L1074.54 1305.45 L1078.63 1308.53 L1082.72 1311.62 L1086.81 1314.71 L1090.9 1317.8" stroke="#ff00ff" stroke-width="6.4" stroke-dasharray="25.5 2.4 14.2 2.4"/>
</g>
<g font-family='"Liberation Sans", Arial, sans-serif' font-size="33" fill="#000">
<text x="838.7" y="1366.2" text-anchor="middle">0</text>
<text x="952.2" y="1366.2" text-anchor="middle">0.2</text>
<text x="1065.7" y="1366.2" text-anchor="middle">0.4</text>
<text x="1179.2" y="1366.2" text-anchor="middle">0.6</text>
<text x="1292.7" y="1366.2" text-anchor="middle">0.8</text>
<text x="1406.2" y="1366.2" text-anchor="middle">1</text>
<text x="824.9" y="1331.2" text-anchor="end">0</text>
<text x="824.9" y="1227.38" text-anchor="end">0.2</text>
<text x="824.9" y="1123.56" text-anchor="end">0.4</text>
<text x="824.9" y="1019.74" text-anchor="end">0.6</text>
<text x="824.9" y="915.92" text-anchor="end">0.8</text>
<text x="824.9" y="812.1" text-anchor="end">1</text>
</g>
<g font-family='"Liberation Sans", Arial, sans-serif' font-size="38.4" fill="#000">
<text x="1008" y="1013.6">n=0.1</text>
<text x="994.6" y="1136.5">n=0.3</text>
<text x="877.3" y="1263.4">n=0.5</text>
</g>
<g font-family='"Liberation Serif", "Times New Roman", serif' font-style="italic" fill="#000">
<text x="772.7" y="1068" font-size="31" textLength="25.2" lengthAdjust="spacingAndGlyphs">m</text>
<text x="799" y="1085.3" font-size="25.5">z</text>
<text x="1103.6" y="1358.4" font-size="31" textLength="25.2" lengthAdjust="spacingAndGlyphs">m</text>
<text x="1129.5" y="1376.4" font-size="24.5">y</text>
</g>
<path d="M1174.2 853.1 H1270.7" stroke="#000000" stroke-width="6.0" fill="none"/>
<path d="M1174.2 902 H1270.7" stroke="#ff0000" stroke-width="6.4" fill="none" stroke-dasharray="7.6 3.9"/>
<path d="M1174.2 952.4 H1270.7" stroke="#0000ff" stroke-width="5.9" fill="none" stroke-dasharray="24.7 19.8"/>
<path d="M1174.2 1002.2 H1270.7" stroke="#ff00ff" stroke-width="6.4" fill="none" stroke-dasharray="25.5 2.4 14.2 2.4"/>
<g font-family='"Liberation Serif", "Times New Roman", serif' fill="#000">
<text x="1281.3" y="862.3" font-size="41" textLength="81" lengthAdjust="spacingAndGlyphs">GYF</text>
<text x="1284.8" y="911.8" font-size="41" font-style="italic">f</text>
<path d="M1281.6 880.4 h22" stroke="#000" stroke-width="1.7"/>
<text x="1303.5" y="921.6" font-size="26.5" textLength="38" lengthAdjust="spacingAndGlyphs">211</text>
<text x="1284.8" y="962.2" font-size="41" font-style="italic">f</text>
<path d="M1281.6 930.8 h22" stroke="#000" stroke-width="1.7"/>
<text x="1303.5" y="972" font-size="26.5" textLength="38" lengthAdjust="spacingAndGlyphs">311</text>
<text x="1284.8" y="1012" font-size="41" font-style="italic">f</text>
<path d="M1281.6 980.6 h22" stroke="#000" stroke-width="1.7"/>
<text x="1303.5" y="1021.8" font-size="26.5" textLength="38" lengthAdjust="spacingAndGlyphs">411</text>
</g>
<g font-family='"Liberation Serif", "Noto Serif CJK SC", serif' font-size="50" fill="#000">
<text x="847.9" y="1498.1" font-size="46">（</text>
<text x="899.7" y="1498.4">d</text>
<text x="927.5" y="1498.1" font-size="46">）</text>
<text x="971.9" y="1498.4"><tspan font-style="italic">a</tspan><tspan font-size="33" dy="1.6">E</tspan><tspan dy="-1.6" dx="1.6">=</tspan><tspan>0.1</tspan></text>
<text x="1135.5" y="1498.4">and</text>
<text x="1232.3" y="1498.4"><tspan font-style="italic">b</tspan><tspan font-size="33" dy="1.6">E</tspan><tspan dy="-1.6" dx="1.6">=</tspan><tspan>0.6</tspan></text>
</g>
</g>
<g id="plot-e">
<path d="M177.96 1581.5 V2102.5 M294.12 1581.5 V2102.5 M410.28 1581.5 V2102.5 M526.44 1581.5 V2102.5" stroke="#000" stroke-opacity="0.088" stroke-width="3.0" fill="none"/>
<path d="M61.8 1998.3 H642.6 M61.8 1894.1 H642.6 M61.8 1789.9 H642.6 M61.8 1685.7 H642.6" stroke="#000" stroke-opacity="0.088" stroke-width="3.0" fill="none"/>
<rect x="61.8" y="1581.5" width="580.8" height="521" fill="none" stroke="#7b7b7b" stroke-width="3.3"/>
<path d="M177.96 2102.5 v-5.6 M177.96 1581.5 v5.6 M61.8 1998.3 h5.6 M642.6 1998.3 h-5.6 M294.12 2102.5 v-5.6 M294.12 1581.5 v5.6 M61.8 1894.1 h5.6 M642.6 1894.1 h-5.6 M410.28 2102.5 v-5.6 M410.28 1581.5 v5.6 M61.8 1789.9 h5.6 M642.6 1789.9 h-5.6 M526.44 2102.5 v-5.6 M526.44 1581.5 v5.6 M61.8 1685.7 h5.6 M642.6 1685.7 h-5.6" stroke="#2a2a2a" stroke-width="2.2" fill="none"/>
<clipPath id="clip-e"><rect x="60.3" y="1581.5" width="583.8" height="522.6"/></clipPath>
<g clip-path="url(#clip-e)" fill="none">
<path d="M61.8 1673.72 L70.26 1680.86 L78.72 1688.01 L87.18 1695.16 L95.64 1702.3 L104.1 1709.45 L112.56 1716.6 L121.02 1723.74 L129.48 1730.89 L137.94 1738.03 L146.4 1745.18 L154.86 1752.33 L163.32 1759.47 L171.78 1766.62 L180.24 1773.77 L188.7 1780.91 L197.17 1788.06 L205.63 1795.21 L214.09 1802.35 L222.55 1809.5 L231.01 1816.64 L239.47 1823.79 L247.93 1830.94 L256.39 1838.08 L264.85 1845.23 L273.31 1852.38 L281.77 1859.52 L290.23 1866.67 L298.69 1873.82 L307.15 1880.96 L315.61 1888.11 L324.07 1895.25 L332.53 1902.4 L340.99 1909.55 L349.45 1916.69 L357.91 1923.84 L366.37 1930.99 L374.83 1938.13 L383.29 1945.28 L391.75 1952.43 L400.21 1959.57 L408.67 1966.72 L417.13 1973.87 L425.59 1981.01 L434.05 1988.16 L442.51 1995.3 L450.97 2002.45 L459.44 2009.6 L467.9 2016.74 L476.36 2023.89 L484.82 2031.04 L493.28 2038.18 L501.74 2045.33 L510.2 2052.48 L518.66 2059.62 L527.12 2066.77 L535.58 2073.91 L544.04 2081.06 L552.5 2088.21 L560.96 2095.35 L569.42 2102.5" stroke="#000000" stroke-width="5.5" stroke-dasharray="7.2 4.05"/>
<path d="M61.8 1682.57 L70.48 1689.57 L79.15 1696.57 L87.81 1703.57 L96.44 1710.57 L105.07 1717.57 L113.68 1724.57 L122.27 1731.57 L130.85 1738.56 L139.42 1745.56 L147.97 1752.56 L156.51 1759.56 L165.04 1766.56 L173.56 1773.56 L182.06 1780.56 L190.56 1787.56 L199.04 1794.55 L207.51 1801.55 L215.97 1808.55 L224.42 1815.55 L232.86 1822.55 L241.29 1829.55 L249.71 1836.55 L258.12 1843.55 L266.52 1850.54 L274.91 1857.54 L283.3 1864.54 L291.68 1871.54 L300.05 1878.54 L308.41 1885.54 L316.77 1892.54 L325.12 1899.54 L333.47 1906.53 L341.81 1913.53 L350.14 1920.53 L358.47 1927.53 L366.79 1934.53 L375.11 1941.53 L383.42 1948.53 L391.73 1955.53 L400.04 1962.52 L408.34 1969.52 L416.65 1976.52 L424.94 1983.52 L433.24 1990.52 L441.53 1997.52 L449.83 2004.52 L458.12 2011.52 L466.41 2018.51 L474.7 2025.51 L482.99 2032.51 L491.28 2039.51 L499.57 2046.51 L507.86 2053.51 L516.15 2060.51 L524.44 2067.51 L532.74 2074.5 L541.03 2081.5 L549.33 2088.5 L557.63 2095.5 L565.93 2102.5" stroke="#ff0000" stroke-width="5.3"/>
<path d="M61.8 1684.66 L70.48 1691.62 L79.15 1698.59 L87.81 1705.55 L96.44 1712.51 L105.07 1719.48 L113.68 1726.44 L122.27 1733.41 L130.85 1740.37 L139.42 1747.33 L147.97 1754.3 L156.51 1761.26 L165.04 1768.23 L173.56 1775.19 L182.06 1782.15 L190.56 1789.12 L199.04 1796.08 L207.51 1803.05 L215.97 1810.01 L224.42 1816.97 L232.86 1823.94 L241.29 1830.9 L249.71 1837.87 L258.12 1844.83 L266.52 1851.79 L274.91 1858.76 L283.3 1865.72 L291.68 1872.69 L300.05 1879.65 L308.41 1886.61 L316.77 1893.58 L325.12 1900.54 L333.47 1907.51 L341.81 1914.47 L350.14 1921.44 L358.47 1928.4 L366.79 1935.36 L375.11 1942.33 L383.42 1949.29 L391.73 1956.26 L400.04 1963.22 L408.34 1970.18 L416.65 1977.15 L424.94 1984.11 L433.24 1991.08 L441.53 1998.04 L449.83 2005 L458.12 2011.97 L466.41 2018.93 L474.7 2025.9 L482.99 2032.86 L491.28 2039.82 L499.57 2046.79 L507.86 2053.75 L516.15 2060.72 L524.44 2067.68 L532.74 2074.64 L541.03 2081.61 L549.33 2088.57 L557.63 2095.54 L565.93 2102.5" stroke="#0000ff" stroke-width="6.5" stroke-dasharray="24.5 19.8"/>
<path d="M61.8 1684.14 L70.48 1691.11 L79.15 1698.08 L87.81 1705.06 L96.44 1712.03 L105.07 1719 L113.68 1725.97 L122.27 1732.95 L130.85 1739.92 L139.42 1746.89 L147.97 1753.86 L156.51 1760.84 L165.04 1767.81 L173.56 1774.78 L182.06 1781.76 L190.56 1788.73 L199.04 1795.7 L207.51 1802.67 L215.97 1809.65 L224.42 1816.62 L232.86 1823.59 L241.29 1830.56 L249.71 1837.54 L258.12 1844.51 L266.52 1851.48 L274.91 1858.45 L283.3 1865.43 L291.68 1872.4 L300.05 1879.37 L308.41 1886.35 L316.77 1893.32 L325.12 1900.29 L333.47 1907.26 L341.81 1914.24 L350.14 1921.21 L358.47 1928.18 L366.79 1935.15 L375.11 1942.13 L383.42 1949.1 L391.73 1956.07 L400.04 1963.05 L408.34 1970.02 L416.65 1976.99 L424.94 1983.96 L433.24 1990.94 L441.53 1997.91 L449.83 2004.88 L458.12 2011.85 L466.41 2018.83 L474.7 2025.8 L482.99 2032.77 L491.28 2039.75 L499.57 2046.72 L507.86 2053.69 L516.15 2060.66 L524.44 2067.64 L532.74 2074.61 L541.03 2081.58 L549.33 2088.55 L557.63 2095.53 L565.93 2102.5" stroke="#ff00ff" stroke-width="4.6" stroke-dasharray="15.4 3.7 7.6 4.2"/>
<path d="M61.8 1830.02 L68.45 1834.56 L75.07 1839.1 L81.67 1843.64 L88.25 1848.18 L94.81 1852.72 L101.34 1857.27 L107.85 1861.81 L114.35 1866.35 L120.82 1870.89 L127.27 1875.43 L133.7 1879.97 L140.12 1884.51 L146.51 1889.05 L152.89 1893.6 L159.25 1898.14 L165.59 1902.68 L171.92 1907.22 L178.23 1911.76 L184.52 1916.3 L190.8 1920.84 L197.07 1925.39 L203.32 1929.93 L209.56 1934.47 L215.78 1939.01 L221.99 1943.55 L228.19 1948.09 L234.38 1952.63 L240.56 1957.18 L246.73 1961.72 L252.88 1966.26 L259.03 1970.8 L265.17 1975.34 L271.3 1979.88 L277.42 1984.42 L283.53 1988.97 L289.64 1993.51 L295.74 1998.05 L301.83 2002.59 L307.91 2007.13 L314 2011.67 L320.07 2016.21 L326.15 2020.76 L332.21 2025.3 L338.28 2029.84 L344.34 2034.38 L350.4 2038.92 L356.46 2043.46 L362.52 2048 L368.57 2052.54 L374.63 2057.09 L380.68 2061.63 L386.74 2066.17 L392.79 2070.71 L398.85 2075.25 L404.91 2079.79 L410.97 2084.33 L417.04 2088.88 L423.11 2093.42 L429.18 2097.96 L435.25 2102.5" stroke="#000000" stroke-width="5.5" stroke-dasharray="7.2 4.05"/>
<path d="M61.8 1835.23 L68.17 1839.68 L74.53 1844.14 L80.87 1848.59 L87.19 1853.05 L93.5 1857.5 L99.8 1861.95 L106.08 1866.41 L112.34 1870.86 L118.6 1875.32 L124.84 1879.77 L131.07 1884.23 L137.28 1888.68 L143.48 1893.14 L149.67 1897.59 L155.85 1902.05 L162.02 1906.5 L168.18 1910.95 L174.32 1915.41 L180.46 1919.86 L186.59 1924.32 L192.7 1928.77 L198.81 1933.23 L204.91 1937.68 L211 1942.14 L217.08 1946.59 L223.15 1951.05 L229.21 1955.5 L235.27 1959.95 L241.32 1964.41 L247.37 1968.86 L253.4 1973.32 L259.43 1977.77 L265.46 1982.23 L271.48 1986.68 L277.49 1991.14 L283.5 1995.59 L289.51 2000.05 L295.51 2004.5 L301.51 2008.95 L307.5 2013.41 L313.49 2017.86 L319.48 2022.32 L325.46 2026.77 L331.45 2031.23 L337.43 2035.68 L343.4 2040.14 L349.38 2044.59 L355.36 2049.05 L361.34 2053.5 L367.31 2057.95 L373.29 2062.41 L379.26 2066.86 L385.24 2071.32 L391.22 2075.77 L397.2 2080.23 L403.18 2084.68 L409.16 2089.14 L415.15 2093.59 L421.13 2098.05 L427.12 2102.5" stroke="#ff0000" stroke-width="5.3"/>
<path d="M61.8 1837.31 L68.16 1841.73 L74.51 1846.15 L80.84 1850.57 L87.15 1854.99 L93.45 1859.41 L99.74 1863.83 L106.01 1868.25 L112.27 1872.67 L118.51 1877.09 L124.74 1881.51 L130.96 1885.93 L137.16 1890.35 L143.36 1894.77 L149.54 1899.19 L155.71 1903.61 L161.87 1908.03 L168.01 1912.45 L174.15 1916.87 L180.28 1921.29 L186.39 1925.71 L192.5 1930.13 L198.6 1934.55 L204.68 1938.97 L210.76 1943.39 L216.83 1947.81 L222.9 1952.23 L228.95 1956.65 L235 1961.07 L241.04 1965.49 L247.08 1969.91 L253.1 1974.33 L259.12 1978.75 L265.14 1983.16 L271.15 1987.58 L277.15 1992 L283.15 1996.42 L289.15 2000.84 L295.14 2005.26 L301.13 2009.68 L307.11 2014.1 L313.09 2018.52 L319.07 2022.94 L325.05 2027.36 L331.02 2031.78 L336.99 2036.2 L342.96 2040.62 L348.93 2045.04 L354.89 2049.46 L360.86 2053.88 L366.83 2058.3 L372.79 2062.72 L378.76 2067.14 L384.73 2071.56 L390.7 2075.98 L396.66 2080.4 L402.64 2084.82 L408.61 2089.24 L414.58 2093.66 L420.56 2098.08 L426.54 2102.5" stroke="#0000ff" stroke-width="6.5" stroke-dasharray="24.5 19.8"/>
<path d="M61.8 1836.79 L68.16 1841.22 L74.51 1845.65 L80.84 1850.08 L87.15 1854.5 L93.45 1858.93 L99.74 1863.36 L106.01 1867.79 L112.27 1872.22 L118.51 1876.65 L124.74 1881.08 L130.96 1885.5 L137.16 1889.93 L143.36 1894.36 L149.54 1898.79 L155.71 1903.22 L161.87 1907.65 L168.01 1912.07 L174.15 1916.5 L180.28 1920.93 L186.39 1925.36 L192.5 1929.79 L198.6 1934.22 L204.68 1938.65 L210.76 1943.07 L216.83 1947.5 L222.9 1951.93 L228.95 1956.36 L235 1960.79 L241.04 1965.22 L247.08 1969.64 L253.1 1974.07 L259.12 1978.5 L265.14 1982.93 L271.15 1987.36 L277.15 1991.79 L283.15 1996.22 L289.15 2000.64 L295.14 2005.07 L301.13 2009.5 L307.11 2013.93 L313.09 2018.36 L319.07 2022.79 L325.05 2027.22 L331.02 2031.64 L336.99 2036.07 L342.96 2040.5 L348.93 2044.93 L354.89 2049.36 L360.86 2053.79 L366.83 2058.22 L372.79 2062.64 L378.76 2067.07 L384.73 2071.5 L390.7 2075.93 L396.66 2080.36 L402.64 2084.79 L408.61 2089.21 L414.58 2093.64 L420.56 2098.07 L426.54 2102.5" stroke="#ff00ff" stroke-width="4.6" stroke-dasharray="15.4 3.7 7.6 4.2"/>
<path d="M61.8 1952.97 L66.02 1955.47 L70.23 1957.96 L74.43 1960.45 L78.63 1962.94 L82.82 1965.43 L87.01 1967.93 L91.19 1970.42 L95.37 1972.91 L99.54 1975.4 L103.7 1977.89 L107.86 1980.39 L112.02 1982.88 L116.17 1985.37 L120.31 1987.86 L124.45 1990.35 L128.59 1992.85 L132.72 1995.34 L136.85 1997.83 L140.97 2000.32 L145.09 2002.82 L149.21 2005.31 L153.32 2007.8 L157.43 2010.29 L161.53 2012.78 L165.63 2015.28 L169.73 2017.77 L173.82 2020.26 L177.92 2022.75 L182 2025.24 L186.09 2027.74 L190.17 2030.23 L194.26 2032.72 L198.34 2035.21 L202.41 2037.7 L206.49 2040.2 L210.56 2042.69 L214.63 2045.18 L218.7 2047.67 L222.77 2050.17 L226.83 2052.66 L230.9 2055.15 L234.96 2057.64 L239.02 2060.13 L243.09 2062.63 L247.15 2065.12 L251.21 2067.61 L255.27 2070.1 L259.33 2072.59 L263.39 2075.09 L267.45 2077.58 L271.51 2080.07 L275.56 2082.56 L279.62 2085.06 L283.68 2087.55 L287.74 2090.04 L291.81 2092.53 L295.87 2095.02 L299.93 2097.52 L303.99 2100.01 L308.06 2102.5" stroke="#000000" stroke-width="5.5" stroke-dasharray="7.2 4.05"/>
<path d="M61.8 1940.99 L66.16 1943.68 L70.5 1946.37 L74.83 1949.07 L79.14 1951.76 L83.43 1954.45 L87.72 1957.14 L91.98 1959.83 L96.24 1962.52 L100.48 1965.22 L104.7 1967.91 L108.92 1970.6 L113.12 1973.29 L117.31 1975.98 L121.49 1978.68 L125.65 1981.37 L129.81 1984.06 L133.95 1986.75 L138.08 1989.44 L142.2 1992.13 L146.32 1994.83 L150.42 1997.52 L154.51 2000.21 L158.6 2002.9 L162.67 2005.59 L166.74 2008.29 L170.8 2010.98 L174.85 2013.67 L178.9 2016.36 L182.93 2019.05 L186.96 2021.74 L190.99 2024.44 L195 2027.13 L199.02 2029.82 L203.02 2032.51 L207.02 2035.2 L211.02 2037.9 L215.01 2040.59 L219 2043.28 L222.98 2045.97 L226.96 2048.66 L230.94 2051.36 L234.91 2054.05 L238.88 2056.74 L242.85 2059.43 L246.82 2062.12 L250.79 2064.81 L254.75 2067.51 L258.71 2070.2 L262.68 2072.89 L266.64 2075.58 L270.6 2078.27 L274.56 2080.97 L278.53 2083.66 L282.49 2086.35 L286.46 2089.04 L290.43 2091.73 L294.39 2094.42 L298.37 2097.12 L302.34 2099.81 L306.32 2102.5" stroke="#ff0000" stroke-width="5.3"/>
<path d="M61.8 1943.6 L66.15 1946.24 L70.48 1948.89 L74.8 1951.54 L79.1 1954.19 L83.39 1956.84 L87.66 1959.49 L91.92 1962.13 L96.16 1964.78 L100.39 1967.43 L104.61 1970.08 L108.81 1972.73 L113 1975.38 L117.18 1978.02 L121.35 1980.67 L125.51 1983.32 L129.65 1985.97 L133.78 1988.62 L137.91 1991.27 L142.02 1993.91 L146.12 1996.56 L150.22 1999.21 L154.3 2001.86 L158.38 2004.51 L162.44 2007.16 L166.5 2009.81 L170.55 2012.45 L174.59 2015.1 L178.62 2017.75 L182.65 2020.4 L186.67 2023.05 L190.69 2025.7 L194.69 2028.34 L198.7 2030.99 L202.69 2033.64 L206.68 2036.29 L210.67 2038.94 L214.65 2041.59 L218.63 2044.23 L222.6 2046.88 L226.58 2049.53 L230.54 2052.18 L234.51 2054.83 L238.47 2057.48 L242.43 2060.13 L246.39 2062.77 L250.34 2065.42 L254.3 2068.07 L258.25 2070.72 L262.2 2073.37 L266.16 2076.02 L270.11 2078.66 L274.06 2081.31 L278.02 2083.96 L281.97 2086.61 L285.93 2089.26 L289.88 2091.91 L293.84 2094.55 L297.8 2097.2 L301.77 2099.85 L305.74 2102.5" stroke="#0000ff" stroke-width="6.5" stroke-dasharray="24.5 19.8"/>
<path d="M61.8 1943.07 L66.15 1945.73 L70.48 1948.39 L74.8 1951.05 L79.1 1953.7 L83.39 1956.36 L87.66 1959.02 L91.92 1961.67 L96.16 1964.33 L100.39 1966.99 L104.61 1969.64 L108.81 1972.3 L113 1974.96 L117.18 1977.62 L121.35 1980.27 L125.51 1982.93 L129.65 1985.59 L133.78 1988.24 L137.91 1990.9 L142.02 1993.56 L146.12 1996.22 L150.22 1998.87 L154.3 2001.53 L158.38 2004.19 L162.44 2006.84 L166.5 2009.5 L170.55 2012.16 L174.59 2014.82 L178.62 2017.47 L182.65 2020.13 L186.67 2022.79 L190.69 2025.44 L194.69 2028.1 L198.7 2030.76 L202.69 2033.42 L206.68 2036.07 L210.67 2038.73 L214.65 2041.39 L218.63 2044.04 L222.6 2046.7 L226.58 2049.36 L230.54 2052.02 L234.51 2054.67 L238.47 2057.33 L242.43 2059.99 L246.39 2062.64 L250.34 2065.3 L254.3 2067.96 L258.25 2070.61 L262.2 2073.27 L266.16 2075.93 L270.11 2078.59 L274.06 2081.24 L278.02 2083.9 L281.97 2086.56 L285.93 2089.21 L289.88 2091.87 L293.84 2094.53 L297.8 2097.19 L301.77 2099.84 L305.74 2102.5" stroke="#ff00ff" stroke-width="4.6" stroke-dasharray="15.4 3.7 7.6 4.2"/>
</g>
<g font-family='"Liberation Sans", Arial, sans-serif' font-size="33" fill="#000">
<text x="61" y="2150.9" text-anchor="middle">0</text>
<text x="177.16" y="2150.9" text-anchor="middle">0.2</text>
<text x="293.32" y="2150.9" text-anchor="middle">0.4</text>
<text x="409.48" y="2150.9" text-anchor="middle">0.6</text>
<text x="525.64" y="2150.9" text-anchor="middle">0.8</text>
<text x="641.8" y="2150.9" text-anchor="middle">1</text>
<text x="47.2" y="2115.9" text-anchor="end">0</text>
<text x="47.2" y="2011.7" text-anchor="end">0.2</text>
<text x="47.2" y="1907.5" text-anchor="end">0.4</text>
<text x="47.2" y="1803.3" text-anchor="end">0.6</text>
<text x="47.2" y="1699.1" text-anchor="end">0.8</text>
<text x="47.2" y="1594.9" text-anchor="end">1</text>
</g>
<g font-family='"Liberation Sans", Arial, sans-serif' font-size="38.4" fill="#000">
<text x="191" y="1768">n=0.1</text>
<text x="166.9" y="1904.3">n=0.3</text>
<text x="104.8" y="2073.8">n=0.5</text>
</g>
<g font-family='"Liberation Serif", "Times New Roman", serif' font-style="italic" fill="#000">
<text x="2.6" y="1852.8" font-size="31" textLength="25.2" lengthAdjust="spacingAndGlyphs">m</text>
<text x="28.5" y="1870.1" font-size="25.5">z</text>
<text x="331.5" y="2139.3" font-size="31" textLength="25.2" lengthAdjust="spacingAndGlyphs">m</text>
<text x="357.4" y="2157.2" font-size="24.5">y</text>
</g>
<path d="M407.8 1636.1 H503.4" stroke="#000000" stroke-width="5.5" fill="none" stroke-dasharray="7.2 4.05"/>
<path d="M407.8 1684.8 H503.4" stroke="#ff0000" stroke-width="5.3" fill="none"/>
<path d="M407.8 1735.4 H503.4" stroke="#0000ff" stroke-width="6.5" fill="none" stroke-dasharray="24.5 19.8"/>
<path d="M407.8 1785.2 H503.4" stroke="#ff00ff" stroke-width="4.6" fill="none" stroke-dasharray="15.4 3.7 7.6 4.2"/>
<g font-family='"Liberation Serif", "Times New Roman", serif' fill="#000">
<text x="514.9" y="1645.3" font-size="41" textLength="81" lengthAdjust="spacingAndGlyphs">GYF</text>
<text x="518.4" y="1694.6" font-size="41" font-style="italic">f</text>
<path d="M515.2 1663.2 h22" stroke="#000" stroke-width="1.7"/>
<text x="537.1" y="1704.4" font-size="26.5" textLength="38" lengthAdjust="spacingAndGlyphs">211</text>
<text x="518.4" y="1745.2" font-size="41" font-style="italic">f</text>
<path d="M515.2 1713.8 h22" stroke="#000" stroke-width="1.7"/>
<text x="537.1" y="1755" font-size="26.5" textLength="38" lengthAdjust="spacingAndGlyphs">221</text>
<text x="518.4" y="1795" font-size="41" font-style="italic">f</text>
<path d="M515.2 1763.6 h22" stroke="#000" stroke-width="1.7"/>
<text x="537.1" y="1804.8" font-size="26.5" textLength="38" lengthAdjust="spacingAndGlyphs">231</text>
</g>
<g font-family='"Liberation Serif", "Noto Serif CJK SC", serif' font-size="50" fill="#000">
<text x="89.5" y="2282.7" font-size="46">（</text>
<text x="141.3" y="2283">e</text>
<text x="169.1" y="2282.7" font-size="46">）</text>
<text x="213.5" y="2283" xml:space="preserve"><tspan font-style="italic">a</tspan><tspan font-size="33" dy="1.6">E</tspan><tspan dy="-1.6" dx="1.6">=</tspan><tspan>0.2 and </tspan><tspan font-style="italic">b</tspan><tspan font-size="33" dy="1.6">E</tspan><tspan dy="-1.6" dx="1.6">=</tspan><tspan>0.2</tspan></text>
</g>
</g>
<g id="plot-f">
<path d="M948.02 1581.5 V2102.5 M1064.24 1581.5 V2102.5 M1180.46 1581.5 V2102.5 M1296.68 1581.5 V2102.5" stroke="#000" stroke-opacity="0.088" stroke-width="3.0" fill="none"/>
<path d="M831.8 1998.3 H1412.9 M831.8 1894.1 H1412.9 M831.8 1789.9 H1412.9 M831.8 1685.7 H1412.9" stroke="#000" stroke-opacity="0.088" stroke-width="3.0" fill="none"/>
<rect x="831.8" y="1581.5" width="581.1" height="521" fill="none" stroke="#7b7b7b" stroke-width="3.3"/>
<path d="M948.02 2102.5 v-5.6 M948.02 1581.5 v5.6 M831.8 1998.3 h5.6 M1412.9 1998.3 h-5.6 M1064.24 2102.5 v-5.6 M1064.24 1581.5 v5.6 M831.8 1894.1 h5.6 M1412.9 1894.1 h-5.6 M1180.46 2102.5 v-5.6 M1180.46 1581.5 v5.6 M831.8 1789.9 h5.6 M1412.9 1789.9 h-5.6 M1296.68 2102.5 v-5.6 M1296.68 1581.5 v5.6 M831.8 1685.7 h5.6 M1412.9 1685.7 h-5.6" stroke="#2a2a2a" stroke-width="2.2" fill="none"/>
<clipPath id="clip-f"><rect x="830.3" y="1581.5" width="584.1" height="522.6"/></clipPath>
<g clip-path="url(#clip-f)" fill="none">
<path d="M831.8 1677.88 L839.81 1684.96 L847.84 1692.04 L855.9 1699.12 L863.98 1706.19 L872.07 1713.27 L880.19 1720.35 L888.33 1727.42 L896.48 1734.5 L904.66 1741.58 L912.85 1748.65 L921.06 1755.73 L929.29 1762.81 L937.54 1769.88 L945.81 1776.96 L954.09 1784.04 L962.38 1791.12 L970.69 1798.19 L979.02 1805.27 L987.36 1812.35 L995.71 1819.42 L1004.08 1826.5 L1012.46 1833.58 L1020.86 1840.65 L1029.26 1847.73 L1037.68 1854.81 L1046.11 1861.88 L1054.55 1868.96 L1063 1876.04 L1071.46 1883.12 L1079.93 1890.19 L1088.41 1897.27 L1096.9 1904.35 L1105.39 1911.42 L1113.89 1918.5 L1122.41 1925.58 L1130.92 1932.65 L1139.45 1939.73 L1147.98 1946.81 L1156.51 1953.88 L1165.05 1960.96 L1173.59 1968.04 L1182.14 1975.12 L1190.69 1982.19 L1199.25 1989.27 L1207.81 1996.35 L1216.37 2003.42 L1224.93 2010.5 L1233.49 2017.58 L1242.06 2024.65 L1250.62 2031.73 L1259.19 2038.81 L1267.75 2045.88 L1276.31 2052.96 L1284.88 2060.04 L1293.44 2067.12 L1301.99 2074.19 L1310.55 2081.27 L1319.1 2088.35 L1327.65 2095.42 L1336.19 2102.5" stroke="#000000" stroke-width="5.5" stroke-dasharray="7.2 4.05"/>
<path d="M831.8 1687.26 L840.36 1694.18 L848.91 1701.1 L857.44 1708.02 L865.96 1714.95 L874.46 1721.87 L882.95 1728.79 L891.42 1735.71 L899.88 1742.63 L908.33 1749.55 L916.76 1756.47 L925.18 1763.39 L933.59 1770.31 L941.98 1777.23 L950.36 1784.15 L958.73 1791.07 L967.09 1797.99 L975.44 1804.91 L983.78 1811.83 L992.11 1818.75 L1000.43 1825.68 L1008.73 1832.6 L1017.03 1839.52 L1025.32 1846.44 L1033.6 1853.36 L1041.88 1860.28 L1050.14 1867.2 L1058.4 1874.12 L1066.65 1881.04 L1074.89 1887.96 L1083.13 1894.88 L1091.35 1901.8 L1099.58 1908.72 L1107.79 1915.64 L1116.01 1922.56 L1124.21 1929.48 L1132.41 1936.41 L1140.61 1943.33 L1148.8 1950.25 L1156.99 1957.17 L1165.18 1964.09 L1173.36 1971.01 L1181.54 1977.93 L1189.72 1984.85 L1197.89 1991.77 L1206.06 1998.69 L1214.24 2005.61 L1222.41 2012.53 L1230.57 2019.45 L1238.74 2026.37 L1246.91 2033.29 L1255.08 2040.21 L1263.25 2047.14 L1271.41 2054.06 L1279.58 2060.98 L1287.76 2067.9 L1295.93 2074.82 L1304.1 2081.74 L1312.28 2088.66 L1320.46 2095.58 L1328.64 2102.5" stroke="#ff0000" stroke-width="5.3"/>
<path d="M831.8 1689.35 L840.35 1696.23 L848.89 1703.12 L857.41 1710 L865.92 1716.89 L874.41 1723.78 L882.89 1730.66 L891.35 1737.55 L899.8 1744.43 L908.24 1751.32 L916.66 1758.21 L925.07 1765.09 L933.47 1771.98 L941.85 1778.86 L950.23 1785.75 L958.59 1792.64 L966.94 1799.52 L975.28 1806.41 L983.61 1813.29 L991.92 1820.18 L1000.23 1827.06 L1008.53 1833.95 L1016.82 1840.84 L1025.1 1847.72 L1033.37 1854.61 L1041.63 1861.49 L1049.89 1868.38 L1058.14 1875.27 L1066.38 1882.15 L1074.61 1889.04 L1082.84 1895.92 L1091.05 1902.81 L1099.27 1909.7 L1107.48 1916.58 L1115.68 1923.47 L1123.87 1930.35 L1132.07 1937.24 L1140.25 1944.12 L1148.44 1951.01 L1156.62 1957.9 L1164.79 1964.78 L1172.96 1971.67 L1181.13 1978.55 L1189.3 1985.44 L1197.47 1992.33 L1205.63 1999.21 L1213.79 2006.1 L1221.95 2012.98 L1230.11 2019.87 L1238.27 2026.76 L1246.43 2033.64 L1254.58 2040.53 L1262.74 2047.41 L1270.9 2054.3 L1279.06 2061.18 L1287.22 2068.07 L1295.39 2074.96 L1303.55 2081.84 L1311.72 2088.73 L1319.89 2095.61 L1328.06 2102.5" stroke="#0000ff" stroke-width="6.5" stroke-dasharray="24.5 19.8"/>
<path d="M831.8 1688.83 L840.35 1695.72 L848.89 1702.62 L857.41 1709.51 L865.92 1716.4 L874.41 1723.3 L882.89 1730.19 L891.35 1737.09 L899.8 1743.98 L908.24 1750.88 L916.66 1757.77 L925.07 1764.67 L933.47 1771.56 L941.85 1778.46 L950.23 1785.35 L958.59 1792.24 L966.94 1799.14 L975.28 1806.03 L983.61 1812.93 L991.92 1819.82 L1000.23 1826.72 L1008.53 1833.61 L1016.82 1840.51 L1025.1 1847.4 L1033.37 1854.3 L1041.63 1861.19 L1049.89 1868.08 L1058.14 1874.98 L1066.38 1881.87 L1074.61 1888.77 L1082.84 1895.66 L1091.05 1902.56 L1099.27 1909.45 L1107.48 1916.35 L1115.68 1923.24 L1123.87 1930.14 L1132.07 1937.03 L1140.25 1943.92 L1148.44 1950.82 L1156.62 1957.71 L1164.79 1964.61 L1172.96 1971.5 L1181.13 1978.4 L1189.3 1985.29 L1197.47 1992.19 L1205.63 1999.08 L1213.79 2005.98 L1221.95 2012.87 L1230.11 2019.77 L1238.27 2026.66 L1246.43 2033.55 L1254.58 2040.45 L1262.74 2047.34 L1270.9 2054.24 L1279.06 2061.13 L1287.22 2068.03 L1295.39 2074.92 L1303.55 2081.82 L1311.72 2088.71 L1319.89 2095.61 L1328.06 2102.5" stroke="#ff00ff" stroke-width="4.6" stroke-dasharray="15.4 3.7 7.6 4.2"/>
<path d="M831.8 1842 L837.65 1846.34 L843.51 1850.68 L849.38 1855.03 L855.25 1859.37 L861.13 1863.71 L867.01 1868.05 L872.9 1872.39 L878.79 1876.73 L884.69 1881.08 L890.6 1885.42 L896.51 1889.76 L902.42 1894.1 L908.34 1898.44 L914.27 1902.78 L920.2 1907.12 L926.13 1911.47 L932.07 1915.81 L938.02 1920.15 L943.96 1924.49 L949.91 1928.83 L955.87 1933.17 L961.83 1937.52 L967.79 1941.86 L973.76 1946.2 L979.72 1950.54 L985.7 1954.88 L991.67 1959.22 L997.65 1963.57 L1003.63 1967.91 L1009.62 1972.25 L1015.6 1976.59 L1021.59 1980.93 L1027.58 1985.28 L1033.58 1989.62 L1039.57 1993.96 L1045.57 1998.3 L1051.57 2002.64 L1057.57 2006.98 L1063.57 2011.33 L1069.58 2015.67 L1075.58 2020.01 L1081.59 2024.35 L1087.6 2028.69 L1093.61 2033.03 L1099.61 2037.38 L1105.62 2041.72 L1111.63 2046.06 L1117.65 2050.4 L1123.66 2054.74 L1129.67 2059.08 L1135.68 2063.43 L1141.69 2067.77 L1147.7 2072.11 L1153.71 2076.45 L1159.72 2080.79 L1165.73 2085.13 L1171.74 2089.47 L1177.75 2093.82 L1183.75 2098.16 L1189.76 2102.5" stroke="#000000" stroke-width="5.5" stroke-dasharray="7.2 4.05"/>
<path d="M831.8 1843.04 L837.92 1847.37 L844.03 1851.69 L850.12 1856.01 L856.2 1860.34 L862.26 1864.66 L868.3 1868.99 L874.34 1873.31 L880.36 1877.64 L886.36 1881.96 L892.35 1886.28 L898.33 1890.61 L904.3 1894.93 L910.25 1899.26 L916.19 1903.58 L922.12 1907.91 L928.04 1912.23 L933.95 1916.56 L939.85 1920.88 L945.74 1925.2 L951.61 1929.53 L957.48 1933.85 L963.34 1938.18 L969.19 1942.5 L975.03 1946.83 L980.86 1951.15 L986.69 1955.47 L992.5 1959.8 L998.31 1964.12 L1004.11 1968.45 L1009.91 1972.77 L1015.7 1977.1 L1021.48 1981.42 L1027.25 1985.74 L1033.03 1990.07 L1038.79 1994.39 L1044.55 1998.72 L1050.31 2003.04 L1056.06 2007.37 L1061.81 2011.69 L1067.55 2016.01 L1073.3 2020.34 L1079.03 2024.66 L1084.77 2028.99 L1090.5 2033.31 L1096.24 2037.64 L1101.97 2041.96 L1107.7 2046.28 L1113.42 2050.61 L1119.15 2054.93 L1124.88 2059.26 L1130.61 2063.58 L1136.33 2067.91 L1142.06 2072.23 L1147.79 2076.55 L1153.52 2080.88 L1159.25 2085.2 L1164.99 2089.53 L1170.72 2093.85 L1176.46 2098.18 L1182.2 2102.5" stroke="#ff0000" stroke-width="5.3"/>
<path d="M831.8 1845.13 L837.91 1849.42 L844.01 1853.71 L850.09 1857.99 L856.16 1862.28 L862.21 1866.57 L868.25 1870.86 L874.27 1875.15 L880.28 1879.44 L886.27 1883.73 L892.26 1888.02 L898.23 1892.31 L904.18 1896.6 L910.13 1900.89 L916.06 1905.18 L921.98 1909.47 L927.89 1913.76 L933.79 1918.05 L939.68 1922.34 L945.55 1926.63 L951.42 1930.92 L957.28 1935.21 L963.13 1939.5 L968.97 1943.79 L974.8 1948.08 L980.62 1952.37 L986.43 1956.65 L992.24 1960.94 L998.04 1965.23 L1003.83 1969.52 L1009.62 1973.81 L1015.4 1978.1 L1021.17 1982.39 L1026.93 1986.68 L1032.7 1990.97 L1038.45 1995.26 L1044.2 1999.55 L1049.95 2003.84 L1055.69 2008.13 L1061.43 2012.42 L1067.17 2016.71 L1072.9 2021 L1078.63 2025.29 L1084.35 2029.58 L1090.08 2033.87 L1095.8 2038.16 L1101.52 2042.45 L1107.24 2046.74 L1112.96 2051.03 L1118.68 2055.31 L1124.39 2059.6 L1130.11 2063.89 L1135.83 2068.18 L1141.55 2072.47 L1147.27 2076.76 L1152.99 2081.05 L1158.71 2085.34 L1164.43 2089.63 L1170.16 2093.92 L1175.89 2098.21 L1181.62 2102.5" stroke="#0000ff" stroke-width="6.5" stroke-dasharray="24.5 19.8"/>
<path d="M831.8 1844.61 L837.91 1848.9 L844.01 1853.2 L850.09 1857.5 L856.16 1861.8 L862.21 1866.1 L868.25 1870.39 L874.27 1874.69 L880.28 1878.99 L886.27 1883.29 L892.26 1887.59 L898.23 1891.89 L904.18 1896.18 L910.13 1900.48 L916.06 1904.78 L921.98 1909.08 L927.89 1913.38 L933.79 1917.68 L939.68 1921.97 L945.55 1926.27 L951.42 1930.57 L957.28 1934.87 L963.13 1939.17 L968.97 1943.46 L974.8 1947.76 L980.62 1952.06 L986.43 1956.36 L992.24 1960.66 L998.04 1964.96 L1003.83 1969.25 L1009.62 1973.55 L1015.4 1977.85 L1021.17 1982.15 L1026.93 1986.45 L1032.7 1990.75 L1038.45 1995.04 L1044.2 1999.34 L1049.95 2003.64 L1055.69 2007.94 L1061.43 2012.24 L1067.17 2016.54 L1072.9 2020.83 L1078.63 2025.13 L1084.35 2029.43 L1090.08 2033.73 L1095.8 2038.03 L1101.52 2042.32 L1107.24 2046.62 L1112.96 2050.92 L1118.68 2055.22 L1124.39 2059.52 L1130.11 2063.82 L1135.83 2068.11 L1141.55 2072.41 L1147.27 2076.71 L1152.99 2081.01 L1158.71 2085.31 L1164.43 2089.61 L1170.16 2093.9 L1175.89 2098.2 L1181.62 2102.5" stroke="#ff00ff" stroke-width="4.6" stroke-dasharray="15.4 3.7 7.6 4.2"/>
<path d="M831.8 1967.04 L835.49 1969.3 L839.2 1971.56 L842.91 1973.81 L846.62 1976.07 L850.35 1978.33 L854.08 1980.59 L857.82 1982.84 L861.56 1985.1 L865.32 1987.36 L869.08 1989.62 L872.84 1991.87 L876.61 1994.13 L880.39 1996.39 L884.18 1998.65 L887.97 2000.9 L891.76 2003.16 L895.56 2005.42 L899.37 2007.68 L903.18 2009.94 L907 2012.19 L910.82 2014.45 L914.65 2016.71 L918.48 2018.97 L922.31 2021.22 L926.15 2023.48 L929.99 2025.74 L933.84 2028 L937.69 2030.25 L941.55 2032.51 L945.41 2034.77 L949.27 2037.03 L953.13 2039.29 L957 2041.54 L960.87 2043.8 L964.74 2046.06 L968.61 2048.32 L972.49 2050.57 L976.37 2052.83 L980.25 2055.09 L984.13 2057.35 L988.02 2059.6 L991.9 2061.86 L995.79 2064.12 L999.68 2066.38 L1003.57 2068.64 L1007.46 2070.89 L1011.35 2073.15 L1015.24 2075.41 L1019.13 2077.67 L1023.02 2079.92 L1026.92 2082.18 L1030.81 2084.44 L1034.7 2086.7 L1038.59 2088.95 L1042.48 2091.21 L1046.37 2093.47 L1050.26 2095.73 L1054.15 2097.98 L1058.03 2100.24 L1061.92 2102.5" stroke="#000000" stroke-width="5.5" stroke-dasharray="7.2 4.05"/>
<path d="M831.8 1947.24 L835.92 1949.83 L840.02 1952.42 L844.11 1955 L848.18 1957.59 L852.23 1960.18 L856.28 1962.77 L860.3 1965.36 L864.32 1967.94 L868.32 1970.53 L872.3 1973.12 L876.28 1975.71 L880.24 1978.29 L884.19 1980.88 L888.13 1983.47 L892.05 1986.06 L895.97 1988.64 L899.87 1991.23 L903.76 1993.82 L907.65 1996.41 L911.52 1998.99 L915.38 2001.58 L919.23 2004.17 L923.08 2006.76 L926.91 2009.35 L930.74 2011.93 L934.56 2014.52 L938.37 2017.11 L942.18 2019.7 L945.97 2022.28 L949.76 2024.87 L953.55 2027.46 L957.32 2030.05 L961.1 2032.63 L964.86 2035.22 L968.62 2037.81 L972.38 2040.4 L976.13 2042.98 L979.88 2045.57 L983.62 2048.16 L987.36 2050.75 L991.1 2053.33 L994.83 2055.92 L998.56 2058.51 L1002.29 2061.1 L1006.02 2063.69 L1009.75 2066.27 L1013.47 2068.86 L1017.19 2071.45 L1020.92 2074.04 L1024.64 2076.62 L1028.36 2079.21 L1032.08 2081.8 L1035.81 2084.39 L1039.53 2086.97 L1043.26 2089.56 L1046.98 2092.15 L1050.71 2094.74 L1054.44 2097.32 L1058.18 2099.91 L1061.92 2102.5" stroke="#ff0000" stroke-width="5.3"/>
<path d="M831.8 1949.85 L835.91 1952.39 L840 1954.94 L844.08 1957.48 L848.14 1960.02 L852.19 1962.57 L856.22 1965.11 L860.24 1967.66 L864.24 1970.2 L868.23 1972.74 L872.21 1975.29 L876.17 1977.83 L880.12 1980.38 L884.06 1982.92 L887.99 1985.47 L891.91 1988.01 L895.81 1990.55 L899.71 1993.1 L903.59 1995.64 L907.46 1998.19 L911.32 2000.73 L915.18 2003.28 L919.02 2005.82 L922.86 2008.36 L926.68 2010.91 L930.5 2013.45 L934.31 2016 L938.11 2018.54 L941.91 2021.09 L945.69 2023.63 L949.47 2026.17 L953.25 2028.72 L957.01 2031.26 L960.78 2033.81 L964.53 2036.35 L968.28 2038.89 L972.03 2041.44 L975.77 2043.98 L979.51 2046.53 L983.24 2049.07 L986.98 2051.62 L990.7 2054.16 L994.43 2056.7 L998.15 2059.25 L1001.87 2061.79 L1005.59 2064.34 L1009.3 2066.88 L1013.02 2069.43 L1016.73 2071.97 L1020.44 2074.51 L1024.15 2077.06 L1027.87 2079.6 L1031.58 2082.15 L1035.29 2084.69 L1039.01 2087.23 L1042.72 2089.78 L1046.44 2092.32 L1050.16 2094.87 L1053.88 2097.41 L1057.61 2099.96 L1061.33 2102.5" stroke="#0000ff" stroke-width="6.5" stroke-dasharray="24.5 19.8"/>
<path d="M831.8 1949.33 L835.91 1951.88 L840 1954.43 L844.08 1956.98 L848.14 1959.54 L852.19 1962.09 L856.22 1964.64 L860.24 1967.2 L864.24 1969.75 L868.23 1972.3 L872.21 1974.86 L876.17 1977.41 L880.12 1979.96 L884.06 1982.51 L887.99 1985.07 L891.91 1987.62 L895.81 1990.17 L899.71 1992.73 L903.59 1995.28 L907.46 1997.83 L911.32 2000.38 L915.18 2002.94 L919.02 2005.49 L922.86 2008.04 L926.68 2010.6 L930.5 2013.15 L934.31 2015.7 L938.11 2018.25 L941.91 2020.81 L945.69 2023.36 L949.47 2025.91 L953.25 2028.47 L957.01 2031.02 L960.78 2033.57 L964.53 2036.12 L968.28 2038.68 L972.03 2041.23 L975.77 2043.78 L979.51 2046.34 L983.24 2048.89 L986.98 2051.44 L990.7 2053.99 L994.43 2056.55 L998.15 2059.1 L1001.87 2061.65 L1005.59 2064.21 L1009.3 2066.76 L1013.02 2069.31 L1016.73 2071.87 L1020.44 2074.42 L1024.15 2076.97 L1027.87 2079.52 L1031.58 2082.08 L1035.29 2084.63 L1039.01 2087.18 L1042.72 2089.74 L1046.44 2092.29 L1050.16 2094.84 L1053.88 2097.39 L1057.61 2099.95 L1061.33 2102.5" stroke="#ff00ff" stroke-width="4.6" stroke-dasharray="15.4 3.7 7.6 4.2"/>
</g>
<g font-family='"Liberation Sans", Arial, sans-serif' font-size="33" fill="#000">
<text x="831" y="2150.9" text-anchor="middle">0</text>
<text x="947.22" y="2150.9" text-anchor="middle">0.2</text>
<text x="1063.44" y="2150.9" text-anchor="middle">0.4</text>
<text x="1179.66" y="2150.9" text-anchor="middle">0.6</text>
<text x="1295.88" y="2150.9" text-anchor="middle">0.8</text>
<text x="1412.1" y="2150.9" text-anchor="middle">1</text>
<text x="817.2" y="2115.9" text-anchor="end">0</text>
<text x="817.2" y="2011.7" text-anchor="end">0.2</text>
<text x="817.2" y="1907.5" text-anchor="end">0.4</text>
<text x="817.2" y="1803.3" text-anchor="end">0.6</text>
<text x="817.2" y="1699.1" text-anchor="end">0.8</text>
<text x="817.2" y="1594.9" text-anchor="end">1</text>
</g>
<g font-family='"Liberation Sans", Arial, sans-serif' font-size="38.4" fill="#000">
<text x="955.8" y="1777.6">n=0.1</text>
<text x="967.6" y="1929.3">n=0.3</text>
<text x="849.6" y="2073.8">n=0.5</text>
</g>
<g font-family='"Liberation Serif", "Times New Roman", serif' font-style="italic" fill="#000">
<text x="776.6" y="1841.1" font-size="31" textLength="25.2" lengthAdjust="spacingAndGlyphs">m</text>
<text x="802.8" y="1858.5" font-size="25.5">z</text>
<text x="1101.8" y="2141" font-size="31" textLength="25.2" lengthAdjust="spacingAndGlyphs">m</text>
<text x="1127.7" y="2159.3" font-size="24.5">y</text>
</g>
<path d="M1177.8 1636.1 H1273.4" stroke="#000000" stroke-width="5.5" fill="none" stroke-dasharray="7.2 4.05"/>
<path d="M1177.8 1684.8 H1273.4" stroke="#ff0000" stroke-width="5.3" fill="none"/>
<path d="M1177.8 1735.4 H1273.4" stroke="#0000ff" stroke-width="6.5" fill="none" stroke-dasharray="24.5 19.8"/>
<path d="M1177.8 1785.2 H1273.4" stroke="#ff00ff" stroke-width="4.6" fill="none" stroke-dasharray="15.4 3.7 7.6 4.2"/>
<g font-family='"Liberation Serif", "Times New Roman", serif' fill="#000">
<text x="1284.9" y="1645.3" font-size="41" textLength="81" lengthAdjust="spacingAndGlyphs">GYF</text>
<text x="1288.4" y="1694.6" font-size="41" font-style="italic">f</text>
<path d="M1285.2 1663.2 h22" stroke="#000" stroke-width="1.7"/>
<text x="1307.1" y="1704.4" font-size="26.5" textLength="38" lengthAdjust="spacingAndGlyphs">211</text>
<text x="1288.4" y="1745.2" font-size="41" font-style="italic">f</text>
<path d="M1285.2 1713.8 h22" stroke="#000" stroke-width="1.7"/>
<text x="1307.1" y="1755" font-size="26.5" textLength="38" lengthAdjust="spacingAndGlyphs">221</text>
<text x="1288.4" y="1795" font-size="41" font-style="italic">f</text>
<path d="M1285.2 1763.6 h22" stroke="#000" stroke-width="1.7"/>
<text x="1307.1" y="1804.8" font-size="26.5" textLength="38" lengthAdjust="spacingAndGlyphs">231</text>
</g>
<g font-family='"Liberation Serif", "Noto Serif CJK SC", serif' font-size="50" fill="#000">
<text x="861.5" y="2282.7" font-size="46">（</text>
<text x="913.3" y="2283">f</text>
<text x="941.1" y="2282.7" font-size="46">）</text>
<text x="982.3" y="2283" xml:space="preserve"><tspan font-style="italic">a</tspan><tspan font-size="33" dy="1.6">E</tspan><tspan dy="-1.6" dx="1.6">=</tspan><tspan>0.2 and </tspan><tspan font-style="italic">b</tspan><tspan font-size="33" dy="1.6">E</tspan><tspan dy="-1.6" dx="1.6">=</tspan><tspan>0.6</tspan></text>
</g>
</g>
</svg>
</body></html>
